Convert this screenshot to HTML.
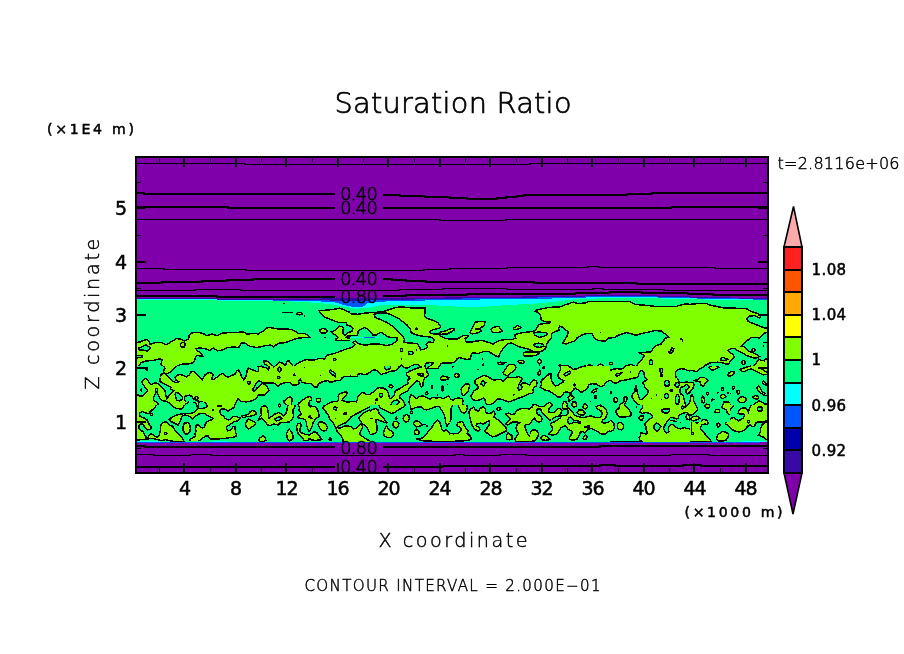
<!DOCTYPE html>
<html lang="en"><head><meta charset="utf-8"><title>Saturation Ratio</title>
<style>
html,body{margin:0;padding:0;background:#fff;}
body{width:904px;height:654px;overflow:hidden;}
svg{display:block;}
text{font-family:"DejaVu Sans","Liberation Sans",sans-serif;fill:#000;}
.thin{font-family:"DejaVu Sans Light","DejaVu Sans","Liberation Sans",sans-serif;font-weight:200;stroke:#000;stroke-width:0.45;}
.ttl{stroke-width:0.7;}
.cl{stroke-width:0.6;}
.b{stroke:#000;stroke-width:0.5;}
.c{fill:none;stroke:#000;stroke-width:1.45;stroke-linejoin:miter;}
.k{fill:none;stroke:#000;stroke-width:2;stroke-linejoin:miter;}
.r{stroke:#000;stroke-width:1.45;}
</style></head><body>
<svg width="904" height="654" viewBox="0 0 904 654">
<rect width="904" height="654" fill="#fff"/>
<g shape-rendering="crispEdges">
<clipPath id="cp"><rect x="136" y="157" width="632" height="316"/></clipPath>
<g clip-path="url(#cp)">
<rect x="136" y="157" width="632" height="316" fill="#7F00AA"/>
<rect x="136" y="296" width="632" height="146.5" fill="#00FF80"/>
<polygon points="135.5,342.5 137,342.5 142.2,341 146.5,339.4 149.6,341.9 150.2,344.3 155.7,342.5 161.2,342.2 166.1,344.9 171.6,341.5 176.5,338.6 180.8,339.1 184.4,341 188.7,338.8 189.3,334.9 192.4,332.7 199.7,332.5 203.4,333.7 207.1,335.8 212,333.9 216.9,335.8 221.7,333.3 227.9,332.7 234,332.7 240,332.1 240,344.9 238.9,347.4 234,347.1 227.9,347.4 222.4,349.8 217.5,351 213.2,348 209.5,350.4 205.2,348.6 199.7,348 196.1,348.6 196.7,350.4 200.9,352.9 202.8,355.9 199.7,355.9 196.7,355.3 194.8,359.6 193.6,362.7 188.7,363.9 182.6,363.9 177.1,366 162,366 160.6,364.5 162.4,359.6 159.4,359 154.5,360.2 145.9,361.1 141,362.7 138.8,366 135.5,366" fill="#80FF00"/>
<polygon points="137.6,348.6 142.2,346.8 146.5,344.7 150.2,348 147.1,351 142.2,349.8 139.2,349.8" fill="#00FF80"/>
<polygon points="136.1,355.7 142.2,355.7 142.2,357.2 136.1,358.1" fill="#00FF80"/>
<polyline points="135.5,366 135.5,342.5 137,342.5 142.2,341 146.5,339.4 149.6,341.9 150.2,344.3 155.7,342.5 161.2,342.2 166.1,344.9 171.6,341.5 176.5,338.6 180.8,339.1 184.4,341 188.7,338.8 189.3,334.9 192.4,332.7 199.7,332.5 203.4,333.7 207.1,335.8 212,333.9 216.9,335.8 221.7,333.3 227.9,332.7 234,332.7 240,332.1" class="c"/>
<polyline points="240,344.9 238.9,347.4 234,347.1 227.9,347.4 222.4,349.8 217.5,351 213.2,348 209.5,350.4 205.2,348.6 199.7,348 196.1,348.6 196.7,350.4 200.9,352.9 202.8,355.9 199.7,355.9 196.7,355.3 194.8,359.6 193.6,362.7 188.7,363.9 182.6,363.9 177.1,366" class="c"/>
<polyline points="162,366 160.6,364.5 162.4,359.6 159.4,359 154.5,360.2 145.9,361.1 141,362.7 138.8,366" class="c"/>
<polyline points="137.6,348.6 142.2,346.8 146.5,344.7 150.2,348 147.1,351 142.2,349.8 139.2,349.8 137.6,348.6" class="c"/>
<polyline points="136.1,355.7 142.2,355.7 142.2,357.2 136.1,358.1 136.1,355.7" class="c"/>
<ellipse cx="182.8" cy="344.9" rx="2.2" ry="2.4" fill="#80FF00" class="r"/>
<polygon points="240,332.1 243.7,332.1 247.3,334.2 252.2,333.3 258.3,333.9 262.6,331.5 266.3,328 270,327.6 276.7,328.8 282.8,329 291.4,329.3 295.7,331.5 298.7,333.7 303.6,333.3 307.9,335.1 309.5,337.1 303.6,337.6 298.7,338.2 293.8,339.4 288.9,341.3 285.3,342.7 279.1,343.1 276.1,344.9 273.6,347.1 270.6,344.9 264.5,345.9 260.2,347.1 255.9,347.4 249.8,346.2 244.9,343.1 241.2,343.1 240,344.3" fill="#80FF00"/>
<polygon points="319.3,310.7 325.6,310.2 333,309.5 339.7,308.2 344,309.8 350,312.5 350,326.2 346.8,325 346.2,322.7 338.2,322.3 333.6,320.6 328.3,318.6 323.7,316.7 320.2,312.6" fill="#80FF00"/>
<polygon points="350,331.8 348.1,332.9 344.8,335.3 343.2,333.9 342.9,331.2 343.5,327.9 341.5,326.6 339.6,326.2 336.9,328.9 333.2,331.2 331.6,331.8 333.6,334.2 336.3,335.5 338.2,337.2 335.5,339.2 336.3,340.5 341.5,340.2 348.1,340.6 350,340.4" fill="#80FF00"/>
<polygon points="350,335.9 347.5,336.2 346.2,337.6 350,338.6" fill="#00FF80"/>
<polygon points="347.9,336.9 350,336.7 350,338 348.4,337.8" fill="#00FFFF"/>
<polygon points="350,348 344,349.8 337.9,352.3 331.7,354.1 326.9,355.3 324.4,359 319.5,358.4 313.4,360.2 306.1,359.6 299.9,362.1 295,365.1 294.4,366 350,366" fill="#80FF00"/>
<polygon points="292.8,366 288.9,360.8 287.1,361.4 285.3,365.5 281.6,362.7 279.1,362.1 276.1,365.1 274.9,366" fill="#80FF00"/>
<polygon points="272.8,366 269.4,362.7 266.3,360.8 263.9,360.8 264.5,363.9 267.5,366" fill="#80FF00"/>
<polyline points="240,332.1 243.7,332.1 247.3,334.2 252.2,333.3 258.3,333.9 262.6,331.5 266.3,328 270,327.6 276.7,328.8 282.8,329 291.4,329.3 295.7,331.5 298.7,333.7 303.6,333.3 307.9,335.1 309.5,337.1 303.6,337.6 298.7,338.2 293.8,339.4 288.9,341.3 285.3,342.7 279.1,343.1 276.1,344.9 273.6,347.1 270.6,344.9 264.5,345.9 260.2,347.1 255.9,347.4 249.8,346.2 244.9,343.1 241.2,343.1 240,344.3" class="c"/>
<polyline points="350,326.2 346.8,325 346.2,322.7 338.2,322.3 333.6,320.6 328.3,318.6 323.7,316.7 320.2,312.6 319.3,310.7 325.6,310.2 333,309.5 339.7,308.2 344,309.8 350,312.5" class="c"/>
<polyline points="350,331.8 348.1,332.9 344.8,335.3 343.2,333.9 342.9,331.2 343.5,327.9 341.5,326.6 339.6,326.2 336.9,328.9 333.2,331.2 331.6,331.8 333.6,334.2 336.3,335.5 338.2,337.2 335.5,339.2 336.3,340.5 341.5,340.2 348.1,340.6 350,340.4" class="c"/>
<polyline points="350,335.9 347.5,336.2 346.2,337.6 350,338.6" class="c"/>
<polyline points="350,338 348.4,337.8 347.9,336.9 350,336.7" class="c"/>
<polyline points="350,348 344,349.8 337.9,352.3 331.7,354.1 326.9,355.3 324.4,359 319.5,358.4 313.4,360.2 306.1,359.6 299.9,362.1 295,365.1 294.4,366" class="c"/>
<polyline points="292.8,366 288.9,360.8 287.1,361.4 285.3,365.5 281.6,362.7 279.1,362.1 276.1,365.1 274.9,366" class="c"/>
<polyline points="272.8,366 269.4,362.7 266.3,360.8 263.9,360.8 264.5,363.9 267.5,366" class="c"/>
<polyline points="282.2,312.3 292.6,312.3" class="c"/>
<polyline points="283.4,303.6 284.6,303.6" class="c"/>
<polyline points="304,316.2 305,316.2" class="c"/>
<polyline points="324.4,337.6 325.6,337.6" class="c"/>
<ellipse cx="299.6" cy="313.7" rx="2.7" ry="1.1" fill="#80FF00" class="r"/>
<ellipse cx="323.4" cy="330.9" rx="3.7" ry="2.2" fill="#80FF00" class="r"/>
<ellipse cx="334.8" cy="359.4" rx="1.3" ry="1.2" fill="#00FF80" class="r"/>
<rect x="350" y="296" width="110" height="70" fill="#80FF00"/>
<polygon points="350,296 460,296 460,337.3 457.8,338.9 450.4,339.2 445.2,338.2 441.1,336.5 438.6,334.2 431,333.6 429.3,332.2 430.6,330.6 435.3,329.1 439.2,328.2 440.6,326.6 437.8,322.5 432.6,320.3 426.6,318.3 424.6,316.2 425.2,308.2 414.8,308.2 407.5,307.6 401.4,306.8 395.3,307.6 387.9,310.1 382.4,311.9 373.2,312.5 364.7,313.1 357.3,314.3 350,313.7" fill="#00FF80"/>
<polygon points="438.6,333.9 440.6,332.2 446.5,330.6 451.8,328.2 453.7,328.5 454.5,329.6 452.5,331.2 447.2,333.9 441.3,334.3" fill="#80FF00"/>
<polygon points="350,326 353.1,328.4 351.8,331.5 350,332.1" fill="#00FF80"/>
<polygon points="350,336 352.2,335.5 357.5,335.3 358.1,333.2 357.5,331.6 360.2,329.5 364.8,327.6 368.1,329.3 371.4,332.9 372.8,334.9 376.3,334.9 380,332.5 382.4,332.7 386.1,335.8 390.4,337.6 397.1,337.8 397.1,340.6 392.2,344.3 386.7,345.5 380.6,344.3 375,343.8 371.4,343.8 368.1,344.8 362.7,344.8 357.5,343.2 355.5,341.1 352.8,342.5 354.8,344.6 353.4,346.5 350,348" fill="#00FF80"/>
<polygon points="373.9,314.3 379.4,313.1 386.7,313.1 391.6,315 397.7,318 403.8,322.3 407.5,325.4 410.6,329.6 411.2,332.7 416.1,334.9 423.4,336.4 430.7,337 434.4,339.4 433.2,342.5 428.3,341.9 425.8,344.3 427.7,346.8 424.6,349.2 420.9,349.8 419.1,346.2 417.3,343.7 411.2,343.1 403.8,342.5 404.4,338.8 402,335.1 398.3,331.5 394.6,327.8 390.4,324.7 385.5,321.7 379.4,319.2 375.1,317.4" fill="#00FF80"/>
<polygon points="460,357.2 457,359 454.6,362.1 451.5,363 443.1,363 441.1,363.6 439.4,366 460,366" fill="#00FF80"/>
<polygon points="411.2,366 413.9,364.6 417.9,364.6 419.8,366" fill="#00FF80"/>
<polygon points="399.9,366 401.3,365.2 402.8,366" fill="#00FF80"/>
<polygon points="424.7,366 426.2,363 429.8,362.7 433.1,363 431.8,364.6 430,366" fill="#00FF80"/>
<polyline points="460,337.3 457.8,338.9 450.4,339.2 445.2,338.2 441.1,336.5 438.6,334.2 431,333.6 429.3,332.2 430.6,330.6 435.3,329.1 439.2,328.2 440.6,326.6 437.8,322.5 432.6,320.3 426.6,318.3 424.6,316.2 425.2,308.2 414.8,308.2 407.5,307.6 401.4,306.8 395.3,307.6 387.9,310.1 382.4,311.9 373.2,312.5 364.7,313.1 357.3,314.3 350,313.7" class="c"/>
<polyline points="438.6,333.9 440.6,332.2 446.5,330.6 451.8,328.2 453.7,328.5 454.5,329.6 452.5,331.2 447.2,333.9 441.3,334.3 438.6,333.9" class="c"/>
<polyline points="350,326 353.1,328.4 351.8,331.5 350,332.1" class="c"/>
<polyline points="350,336 352.2,335.5 357.5,335.3 358.1,333.2 357.5,331.6 360.2,329.5 364.8,327.6 368.1,329.3 371.4,332.9 372.8,334.9 376.3,334.9 380,332.5 382.4,332.7 386.1,335.8 390.4,337.6 397.1,337.8 397.1,340.6 392.2,344.3 386.7,345.5 380.6,344.3 375,343.8 371.4,343.8 368.1,344.8 362.7,344.8 357.5,343.2 355.5,341.1 352.8,342.5 354.8,344.6 353.4,346.5 350,348" class="c"/>
<polyline points="373.9,314.3 379.4,313.1 386.7,313.1 391.6,315 397.7,318 403.8,322.3 407.5,325.4 410.6,329.6 411.2,332.7 416.1,334.9 423.4,336.4 430.7,337 434.4,339.4 433.2,342.5 428.3,341.9 425.8,344.3 427.7,346.8 424.6,349.2 420.9,349.8 419.1,346.2 417.3,343.7 411.2,343.1 403.8,342.5 404.4,338.8 402,335.1 398.3,331.5 394.6,327.8 390.4,324.7 385.5,321.7 379.4,319.2 375.1,317.4 373.9,314.3" class="c"/>
<polyline points="460,357.2 457,359 454.6,362.1 451.5,363 443.1,363 441.1,363.6 439.4,366" class="c"/>
<polyline points="411.2,366 413.9,364.6 417.9,364.6 419.8,366" class="c"/>
<polyline points="399.9,366 401.3,365.2 402.8,366" class="c"/>
<polyline points="424.7,366 426.2,363 429.8,362.7 433.1,363 431.8,364.6 430,366" class="c"/>
<polyline points="414.8,329.3 416.1,328 417.3,329.3 414.8,329.3" class="c"/>
<polyline points="400.6,359 401.6,359" class="c"/>
<polyline points="416.2,349.8 417.2,349.8" class="c"/>
<polyline points="446.8,345.9 447.7,345.9" class="c"/>
<ellipse cx="401.4" cy="349.8" rx="1.1" ry="1.6" fill="#00FF80" class="r"/>
<ellipse cx="410.8" cy="352.9" rx="2.3" ry="1.6" fill="#00FF80" class="r"/>
<polygon points="350,336.9 378.7,337.1 378.7,338.1 350,338.2" fill="#00FFFF"/>
<polygon points="363.5,337.3 374.5,337.3 374.5,338 363.5,338" fill="#0055FF"/>
<polygon points="460,337 463.7,335.4 468.6,335.4 467.3,337.6 464.9,338.2 466.1,341.9 471,342.2 475.9,341 482,340.6 488.1,342.2 493,344 496.7,341.9 500.4,340.3 506.5,339.4 512.6,339.4 515.7,338.2 514.4,335.4 517.5,333.7 523.6,332.5 530.9,331.7 534.6,330.9 537.1,327.8 538.9,324.4 544.4,323.5 550.5,322.7 549.9,321.7 544.4,321.7 541.3,319.9 540.1,314.3 538.3,312.5 535.2,311.3 535.8,310.4 542,308.8 548.1,307.6 554.2,307 560.3,306.8 565.2,304.8 570,303.3 570,342.5 566.4,344 562.8,343.1 565.2,338.8 567.6,335.1 568.3,331.5 565.2,329.6 562.8,327.2 559.7,326.3 558.5,328 559.1,330.3 555.4,331.5 551.7,333.3 551.7,337.6 549.3,340 546.9,343.7 545.6,348.6 542,351 538.3,351.7 533.4,351.3 530.9,350.4 528.5,349.2 523.6,348 518.7,346.8 515,344.9 511.4,343.1 508.3,343.5 505.3,346.2 502.2,349.8 499.8,353.5 498.9,356.9 495.5,355.9 491.8,353.5 488.7,351.7 483.2,351.7 478.3,353.5 472.2,352.9 471,355.9 470.4,359 466.1,359.4 460,357.8" fill="#80FF00"/>
<polygon points="522.6,353.5 526.1,352 533.4,352.3 539.5,353.2 535.8,355.3 529.7,356.2 524.8,355.9" fill="#80FF00"/>
<polygon points="533.4,332.7 538.3,332.1 545.6,332.5 547.5,333.9 544.4,336.4 539.5,337.3 535.2,335.4" fill="#00FF80"/>
<polygon points="533.4,344.3 538.3,343.1 543.2,344.3 543.8,346.2 539.5,347.4 534.6,346.4" fill="#00FF80"/>
<polygon points="469.8,332.7 472.8,327.2 475.3,322.3 479.6,321.3 485.1,321.4 484.5,324.7 481.4,327.6 478.3,328.8 481.4,330.9 478.3,332.7 472.2,333.9" fill="#80FF00"/>
<polygon points="490.6,329.3 494.3,327.2 498.5,326.3 502.2,330.9 499.1,332.5 493,332.5" fill="#80FF00"/>
<polygon points="513.2,328.4 517.5,325.4 521.2,327.2 518.7,329 514.4,329.6" fill="#80FF00"/>
<polygon points="497.3,363 500.4,362.1 505.3,362.7 504,363.9 499.1,364.5" fill="#80FF00"/>
<polygon points="517.5,361.4 521.2,360.2 524.2,361.4 523.6,363.5 519.9,363" fill="#80FF00"/>
<polygon points="537.1,361.4 539.5,359 541.7,361.8 539.5,364.5" fill="#80FF00"/>
<polygon points="507.2,366 508.9,364.5 513.8,364.7 516,366" fill="#80FF00"/>
<polygon points="558.6,366 559.1,365.1 564,365.5 568.1,366" fill="#80FF00"/>
<polyline points="460,337 463.7,335.4 468.6,335.4 467.3,337.6 464.9,338.2 466.1,341.9 471,342.2 475.9,341 482,340.6 488.1,342.2 493,344 496.7,341.9 500.4,340.3 506.5,339.4 512.6,339.4 515.7,338.2 514.4,335.4 517.5,333.7 523.6,332.5 530.9,331.7 534.6,330.9 537.1,327.8 538.9,324.4 544.4,323.5 550.5,322.7 549.9,321.7 544.4,321.7 541.3,319.9 540.1,314.3 538.3,312.5 535.2,311.3 535.8,310.4 542,308.8 548.1,307.6 554.2,307 560.3,306.8 565.2,304.8 570,303.3" class="c"/>
<polyline points="570,342.5 566.4,344 562.8,343.1 565.2,338.8 567.6,335.1 568.3,331.5 565.2,329.6 562.8,327.2 559.7,326.3 558.5,328 559.1,330.3 555.4,331.5 551.7,333.3 551.7,337.6 549.3,340 546.9,343.7 545.6,348.6 542,351 538.3,351.7 533.4,351.3 530.9,350.4 528.5,349.2 523.6,348 518.7,346.8 515,344.9 511.4,343.1 508.3,343.5 505.3,346.2 502.2,349.8 499.8,353.5 498.9,356.9 495.5,355.9 491.8,353.5 488.7,351.7 483.2,351.7 478.3,353.5 472.2,352.9 471,355.9 470.4,359 466.1,359.4 460,357.8" class="c"/>
<polyline points="522.6,353.5 526.1,352 533.4,352.3 539.5,353.2 535.8,355.3 529.7,356.2 524.8,355.9 522.6,353.5" class="c"/>
<polyline points="533.4,332.7 538.3,332.1 545.6,332.5 547.5,333.9 544.4,336.4 539.5,337.3 535.2,335.4 533.4,332.7" class="c"/>
<polyline points="533.4,344.3 538.3,343.1 543.2,344.3 543.8,346.2 539.5,347.4 534.6,346.4 533.4,344.3" class="c"/>
<polyline points="469.8,332.7 472.8,327.2 475.3,322.3 479.6,321.3 485.1,321.4 484.5,324.7 481.4,327.6 478.3,328.8 481.4,330.9 478.3,332.7 472.2,333.9 469.8,332.7" class="c"/>
<polyline points="490.6,329.3 494.3,327.2 498.5,326.3 502.2,330.9 499.1,332.5 493,332.5 490.6,329.3" class="c"/>
<polyline points="513.2,328.4 517.5,325.4 521.2,327.2 518.7,329 514.4,329.6 513.2,328.4" class="c"/>
<polyline points="497.3,363 500.4,362.1 505.3,362.7 504,363.9 499.1,364.5 497.3,363" class="c"/>
<polyline points="517.5,361.4 521.2,360.2 524.2,361.4 523.6,363.5 519.9,363 517.5,361.4" class="c"/>
<polyline points="537.1,361.4 539.5,359 541.7,361.8 539.5,364.5 537.1,361.4" class="c"/>
<polyline points="507.2,366 508.9,364.5 513.8,364.7 516,366" class="c"/>
<polyline points="558.6,366 559.1,365.1 564,365.5 568.1,366" class="c"/>
<polyline points="482.1,359 483.1,359" class="c"/>
<polyline points="481.8,365.5 483.2,364.5 483.2,366" class="c"/>
<polyline points="474.7,328.8 478.3,328.8" class="c"/>
<rect x="570" y="296" width="110" height="70" fill="#80FF00"/>
<polygon points="570,296 680,296 680,305.2 676.4,306.4 667.9,306.4 655.6,306.4 645.8,305.3 636.1,304.6 633,303.3 629,301.4 618.9,301.4 606.7,301.4 594.5,301.4 589,301.4 585.5,303 578,303.5 573.4,302.2 570,303" fill="#00FF80"/>
<polygon points="570,342.5 574.9,341 577.3,337.6 582.2,334.9 587.1,333.3 592,333.7 593.9,337.6 598.1,340.6 605.5,341 607.9,338.2 614,337.6 618.9,335.1 626.3,332.5 631.2,333.7 636.1,335.4 640.9,333.7 648.3,332.1 655.6,330.5 661.7,331.2 665.4,334.2 669.1,337.3 665.4,338.2 663,341.3 661.1,344 655.6,345.9 653.2,348 651.3,351.7 645.8,352.3 639.1,352.5 644.6,355.9 641.6,359.6 638.5,363.3 636.4,366 635.1,366 631.2,364.5 626.3,365.7 625.7,366 603.9,366 600.6,363.9 597.3,366 592.4,366 589.6,364.7 586.9,366 570,366" fill="#00FF80"/>
<polygon points="668.5,352.3 670.9,350.4 671.5,347.4 674,348.6 672.8,351.7 670.9,353.5" fill="#00FF80"/>
<polyline points="680,305.2 676.4,306.4 667.9,306.4 655.6,306.4 645.8,305.3 636.1,304.6 633,303.3 629,301.4 618.9,301.4 606.7,301.4 594.5,301.4 589,301.4 585.5,303 578,303.5 573.4,302.2 570,303" class="c"/>
<polyline points="570,342.5 574.9,341 577.3,337.6 582.2,334.9 587.1,333.3 592,333.7 593.9,337.6 598.1,340.6 605.5,341 607.9,338.2 614,337.6 618.9,335.1 626.3,332.5 631.2,333.7 636.1,335.4 640.9,333.7 648.3,332.1 655.6,330.5 661.7,331.2 665.4,334.2 669.1,337.3 665.4,338.2 663,341.3 661.1,344 655.6,345.9 653.2,348 651.3,351.7 645.8,352.3 639.1,352.5 644.6,355.9 641.6,359.6 638.5,363.3 636.4,366" class="c"/>
<polyline points="635.1,366 631.2,364.5 626.3,365.7 625.7,366" class="c"/>
<polyline points="603.9,366 600.6,363.9 597.3,366" class="c"/>
<polyline points="592.4,366 589.6,364.7 586.9,366" class="c"/>
<polyline points="668.5,352.3 670.9,350.4 671.5,347.4 674,348.6 672.8,351.7 670.9,353.5 668.5,352.3" class="c"/>
<polyline points="600,332.5 601.2,332.5" class="c"/>
<ellipse cx="611" cy="363.3" rx="1.6" ry="1.1" fill="#80FF00" class="r"/>
<ellipse cx="651" cy="362.3" rx="1.7" ry="2.3" fill="#00FF80" class="r"/>
<polygon points="680,305.2 684.9,304 689.8,304.3 698.3,303.6 705.7,303.3 710.6,305.2 716.7,306.4 725.3,308.2 735,308.2 746.1,308.5 750.9,311.3 758.3,313.7 760.7,315 768,314.3 768,315.3 761.3,315.6 759.5,317.8 754.6,315.6 749.7,316.2 746.7,319.2 748.5,321.7 753.4,323.5 759.5,326 764.4,328 768,328 768,332.3 764.8,332.9 761.5,336 758.8,338.3 757.4,337.3 751.4,337.3 748.1,339.9 744.2,343.6 741.5,346.3 743.5,346.3 746.2,349 748.9,351.3 752.2,352.5 756.1,354.2 759.5,356.6 757.4,357.5 754.9,358.3 750.8,356.9 746.9,355.6 742.9,353.2 738.8,351.3 734.9,348.6 731.6,348.5 728.9,349.9 728,350.9 730.3,352.5 733,354.8 734.6,356.9 732.2,359.2 730.3,361.2 728.9,363.9 725.6,364.1 721.6,362.5 717.7,362.2 715,362.5 710.6,362.7 705.7,365.1 704.5,366 680,366" fill="#80FF00"/>
<polygon points="720.2,359.2 722.9,357.2 724.9,358.3 727.6,359.2 724.9,360.6 721.6,360.6" fill="#00FF80"/>
<polygon points="768,358.5 764.8,359.2 764.2,360.8 761.5,360.6 758.8,359.2 757.4,361.2 755.5,364.5 753.1,366 768,366" fill="#80FF00"/>
<polyline points="680,305.2 684.9,304 689.8,304.3 698.3,303.6 705.7,303.3 710.6,305.2 716.7,306.4 725.3,308.2 735,308.2 746.1,308.5 750.9,311.3 758.3,313.7 760.7,315 768,314.3" class="c"/>
<polyline points="768,315.3 761.3,315.6 759.5,317.8 754.6,315.6 749.7,316.2 746.7,319.2 748.5,321.7 753.4,323.5 759.5,326 764.4,328 768,328" class="c"/>
<polyline points="768,332.3 764.8,332.9 761.5,336 758.8,338.3 757.4,337.3 751.4,337.3 748.1,339.9 744.2,343.6 741.5,346.3 743.5,346.3 746.2,349 748.9,351.3 752.2,352.5 756.1,354.2 759.5,356.6 757.4,357.5 754.9,358.3 750.8,356.9 746.9,355.6 742.9,353.2 738.8,351.3 734.9,348.6 731.6,348.5 728.9,349.9 728,350.9 730.3,352.5 733,354.8 734.6,356.9 732.2,359.2 730.3,361.2 728.9,363.9 725.6,364.1 721.6,362.5 717.7,362.2 715,362.5 710.6,362.7 705.7,365.1 704.5,366" class="c"/>
<polyline points="720.2,359.2 722.9,357.2 724.9,358.3 727.6,359.2 724.9,360.6 721.6,360.6 720.2,359.2" class="c"/>
<polyline points="768,358.5 764.8,359.2 764.2,360.8 761.5,360.6 758.8,359.2 757.4,361.2 755.5,364.5 753.1,366" class="c"/>
<polyline points="763.2,345.5 764.4,346.4" class="c"/>
<polyline points="680,338.8 682.4,339.4 682.4,341.9" class="c"/>
<ellipse cx="753.5" cy="349.9" rx="1.6" ry="1.6" fill="#80FF00" class="r"/>
<ellipse cx="743.5" cy="362.5" rx="1.7" ry="1.8" fill="#80FF00" class="r"/>
<rect x="130" y="366" width="80" height="39" fill="#80FF00"/>
<polygon points="135.3,366 163.5,366 165,368.2 163.6,370.9 164.1,373.1 161,374.4 160.5,377.5 159.6,380.6 161.4,382.4 164.5,384.1 168.1,385.9 170.9,387.2 170.7,389.2 173.8,390.8 171.2,393.4 168.9,396.1 166.7,398.3 165.8,395.6 165.4,392.1 164.5,389.5 161.9,387.2 159.6,385 157.4,383.3 154.8,383 151.7,384.4 149.9,383.7 148.1,380.6 145.9,378.4 143.7,379.7 141.9,381.9 143.3,385 145.9,388.1 147.7,390.3 145.5,393 142.8,395.6 141.1,396.5 138.8,395.6 137.1,394.3 135.3,394.8" fill="#00FF80"/>
<polygon points="156.5,391.7 158.3,395.2 160.1,398.3 162.3,400.5 166.3,401.4 169.8,403.2 171.2,405 157.4,405 158.3,404.1 156.5,402.3 153.9,400.1 153.2,397.9 154.8,395.2" fill="#00FF80"/>
<polygon points="176,392.5 178.2,393 180.9,395.2 182.7,397 182.2,399.2 179.6,401 176.9,400.1 175.8,397.4 175.1,394.8" fill="#00FF80"/>
<polygon points="184.4,397 186.6,395.6 189.3,395.2 191.9,396.5 193.3,399.2 195.5,400.1 199,401.4 202.6,401.8 205.2,403.6 206.1,405 186.6,405 187.5,404.1 185.8,401.8 184.4,399.6" fill="#00FF80"/>
<polygon points="176.5,366 174.2,368.7 171.6,371.3 168.1,373.5 165.4,374 168.9,377.5 171.6,380.2 175.1,382.4 178.2,382.4 178.7,381.5 176,380.2 175.1,377.9 176.5,375.7 179.6,374.4 183.1,375.3 186.6,377.1 189.3,374.8 191.1,371.8 193.3,371.3 197.3,374.4 200.4,377.5 202.6,379.7 204.3,375.7 207,373.1 210,372.6 210,366" fill="#00FF80"/>
<polyline points="163.5,366 165,368.2 163.6,370.9 164.1,373.1 161,374.4 160.5,377.5 159.6,380.6 161.4,382.4 164.5,384.1 168.1,385.9 170.9,387.2 170.7,389.2 173.8,390.8 171.2,393.4 168.9,396.1 166.7,398.3 165.8,395.6 165.4,392.1 164.5,389.5 161.9,387.2 159.6,385 157.4,383.3 154.8,383 151.7,384.4 149.9,383.7 148.1,380.6 145.9,378.4 143.7,379.7 141.9,381.9 143.3,385 145.9,388.1 147.7,390.3 145.5,393 142.8,395.6 141.1,396.5 138.8,395.6 137.1,394.3 135.3,394.8 135.3,366" class="c"/>
<polyline points="157.4,405 158.3,404.1 156.5,402.3 153.9,400.1 153.2,397.9 154.8,395.2 156.5,391.7 158.3,395.2 160.1,398.3 162.3,400.5 166.3,401.4 169.8,403.2 171.2,405" class="c"/>
<polyline points="176,392.5 178.2,393 180.9,395.2 182.7,397 182.2,399.2 179.6,401 176.9,400.1 175.8,397.4 175.1,394.8 176,392.5" class="c"/>
<polyline points="186.6,405 187.5,404.1 185.8,401.8 184.4,399.6 184.4,397 186.6,395.6 189.3,395.2 191.9,396.5 193.3,399.2 195.5,400.1 199,401.4 202.6,401.8 205.2,403.6 206.1,405" class="c"/>
<polyline points="176.5,366 174.2,368.7 171.6,371.3 168.1,373.5 165.4,374 168.9,377.5 171.6,380.2 175.1,382.4 178.2,382.4 178.7,381.5 176,380.2 175.1,377.9 176.5,375.7 179.6,374.4 183.1,375.3 186.6,377.1 189.3,374.8 191.1,371.8 193.3,371.3 197.3,374.4 200.4,377.5 202.6,379.7 204.3,375.7 207,373.1 210,372.6" class="c"/>
<polyline points="140.4,390.3 141.5,389.2 141.5,391.2 140.4,390.3" class="c"/>
<polyline points="182.2,396.5 183.1,397.4" class="c"/>
<ellipse cx="146.8" cy="369.1" rx="1.1" ry="1.1" fill="#80FF00" class="r"/>
<ellipse cx="156.5" cy="389.9" rx="1.2" ry="1.4" fill="#00FF80" class="r"/>
<ellipse cx="196.5" cy="398.3" rx="1.6" ry="1.6" fill="#80FF00" class="r"/>
<rect x="210" y="366" width="80" height="39" fill="#80FF00"/>
<polygon points="210,366 260.4,366 258.2,366.9 258.7,369.5 257.8,371.8 255.1,370.9 251.6,369.5 248.5,368.2 247.2,370.4 246.7,374 245.4,377.5 243.6,379.7 241.9,377.5 240.1,372.6 238.3,370 236.5,371.3 234.8,374.4 231.2,375.7 227.7,377.1 225,375.7 222.8,373.5 220.6,374.4 217.1,377.1 214,379.3 212.2,379.7 211.8,377.5 213.5,375.3 212.7,373.5 210,372.6" fill="#00FF80"/>
<polygon points="261.2,366 263.1,367.1 266.6,367.6 268.2,370 269.1,368.2 269.1,366" fill="#00FF80"/>
<polygon points="252.5,389.9 254.2,386.8 256.5,382.8 258.7,380.6 261.8,381.9 262.2,383.7 259.6,385.9 256.9,388.1 254.2,391.2" fill="#00FF80"/>
<polygon points="262.2,383.3 265.8,382.8 270.2,382.8 274.6,383.3 278.1,386.4 280.8,384.1 284.3,382.8 290,382.4 290,396.5 287,398.7 283.5,401.4 285.2,403.6 286.3,405 280.8,405 279.5,403.6 278.1,405 236.1,405 236.5,401 237.9,398.7 239.2,400.1 242.7,402.3 247.2,401.8 251.6,401 255.1,399.2 257.3,397 258.7,394.8 262.2,395.2 264.9,394.8 266.6,392.5 268.8,390.3 267.5,387.7 265.8,385" fill="#00FF80"/>
<polyline points="260.4,366 258.2,366.9 258.7,369.5 257.8,371.8 255.1,370.9 251.6,369.5 248.5,368.2 247.2,370.4 246.7,374 245.4,377.5 243.6,379.7 241.9,377.5 240.1,372.6 238.3,370 236.5,371.3 234.8,374.4 231.2,375.7 227.7,377.1 225,375.7 222.8,373.5 220.6,374.4 217.1,377.1 214,379.3 212.2,379.7 211.8,377.5 213.5,375.3 212.7,373.5 210,372.6" class="c"/>
<polyline points="261.2,366 263.1,367.1 266.6,367.6 268.2,370 269.1,368.2 269.1,366" class="c"/>
<polyline points="252.5,389.9 254.2,386.8 256.5,382.8 258.7,380.6 261.8,381.9 262.2,383.7 259.6,385.9 256.9,388.1 254.2,391.2 252.5,389.9" class="c"/>
<polyline points="236.1,405 236.5,401 237.9,398.7 239.2,400.1 242.7,402.3 247.2,401.8 251.6,401 255.1,399.2 257.3,397 258.7,394.8 262.2,395.2 264.9,394.8 266.6,392.5 268.8,390.3 267.5,387.7 265.8,385 262.2,383.3 265.8,382.8 270.2,382.8 274.6,383.3 278.1,386.4 280.8,384.1 284.3,382.8 290,382.4" class="c"/>
<polyline points="290,396.5 287,398.7 283.5,401.4 285.2,403.6 286.3,405" class="c"/>
<polyline points="280.8,405 279.5,403.6 278.1,405" class="c"/>
<polyline points="273.3,366 273.7,367.1 274.9,366" class="c"/>
<ellipse cx="279.5" cy="369.5" rx="1.6" ry="2.3" fill="#00FF80" class="r"/>
<ellipse cx="278.8" cy="377.5" rx="1.1" ry="1.2" fill="#00FF80" class="r"/>
<ellipse cx="248.9" cy="382.8" rx="1.4" ry="1.4" fill="#00FF80" class="r"/>
<rect x="290" y="366" width="80" height="39" fill="#80FF00"/>
<polygon points="290,382.4 292.7,385 296.2,385 299.3,383.7 298.4,381 300.2,379.3 301.9,382.4 305.9,383.3 310.4,383.3 313,385.5 314.8,387.2 317.4,386.8 318.3,384.1 321,382.4 324.5,381 328.1,380.6 329.4,382.4 332.5,381.9 336,380.6 339.6,380.6 341.3,379.7 342.2,377.5 344.9,376.6 350.2,376.2 355.5,376.4 357.3,376.2 358.1,374.4 360.8,373.5 364.3,374.8 367,374 370,372.2 370,394.3 367,394.8 364.3,393 361.7,392.5 359.9,394.3 357.7,396.5 357.3,399.6 356.4,401.8 353.7,401.4 351.1,401.4 348.4,402.3 344.9,401.4 342.2,400.1 344,397.4 347.5,393.4 345.8,391.7 342.2,393 339.1,394.3 338.2,396.5 338.7,399.6 336.9,401.4 332.5,401.8 328.9,403.2 326.3,405 291.3,405 291.8,401.4 291.8,397.9 290,396.5" fill="#00FF80"/>
<polygon points="298,405 298.8,403.2 301.5,401 305,398.3 309,396.5 311.7,397.4 311.7,399.6 309.5,401.4 308.6,404.1 309,405" fill="#80FF00"/>
<polygon points="328.9,371.3 330.3,370.2 333.4,372.2 335.6,374.4 335.6,377.1 333.4,375.3 330.7,373.5" fill="#00FF80"/>
<polyline points="290,382.4 292.7,385 296.2,385 299.3,383.7 298.4,381 300.2,379.3 301.9,382.4 305.9,383.3 310.4,383.3 313,385.5 314.8,387.2 317.4,386.8 318.3,384.1 321,382.4 324.5,381 328.1,380.6 329.4,382.4 332.5,381.9 336,380.6 339.6,380.6 341.3,379.7 342.2,377.5 344.9,376.6 350.2,376.2 355.5,376.4 357.3,376.2 358.1,374.4 360.8,373.5 364.3,374.8 367,374 370,372.2" class="c"/>
<polyline points="370,394.3 367,394.8 364.3,393 361.7,392.5 359.9,394.3 357.7,396.5 357.3,399.6 356.4,401.8 353.7,401.4 351.1,401.4 348.4,402.3 344.9,401.4 342.2,400.1 344,397.4 347.5,393.4 345.8,391.7 342.2,393 339.1,394.3 338.2,396.5 338.7,399.6 336.9,401.4 332.5,401.8 328.9,403.2 326.3,405" class="c"/>
<polyline points="291.3,405 291.8,401.4 291.8,397.9 290,396.5" class="c"/>
<polyline points="298,405 298.8,403.2 301.5,401 305,398.3 309,396.5 311.7,397.4 311.7,399.6 309.5,401.4 308.6,404.1 309,405" class="c"/>
<polyline points="328.9,371.3 330.3,370.2 333.4,372.2 335.6,374.4 335.6,377.1 333.4,375.3 330.7,373.5 328.9,371.3" class="c"/>
<polyline points="293.5,375.7 294.4,374 295.3,375.7 293.5,375.7" class="c"/>
<polyline points="319.6,375.7 320.5,375.7" class="c"/>
<polyline points="304.2,367.3 305,367.3" class="c"/>
<polyline points="293.5,366.4 294.4,366.4" class="c"/>
<ellipse cx="318.5" cy="400.3" rx="2.1" ry="1.9" fill="#80FF00" class="r"/>
<rect x="370" y="366" width="80" height="39" fill="#80FF00"/>
<polygon points="370,372.2 372.7,370.4 375.3,369.5 378,371.8 381.5,374.4 384.2,373.5 388.6,372.2 390,371.3 394,371 396.6,370 398.6,367.3 400.5,366 401.9,366 403.3,367 405.9,368.3 408.6,367.6 411.2,366 419.9,366 421.2,367 418.6,367.9 415.2,368.9 412.6,370 409.3,371.3 406.6,372.9 406.3,374.2 407.6,375.9 409.3,377.2 409.9,378.6 408,379.5 407.6,381.9 408.6,383.5 405.9,384.6 403.3,386.2 400.6,388.2 398,389.5 395.3,390.9 394.6,393.2 394,395.8 391.3,398.1 390,398.5 389,396.1 388.1,392.5 386.8,389.9 383.3,388.1 379.7,387.7 377.1,388.1 374.9,390.3 372.7,392.5 370,394.3" fill="#00FF80"/>
<polygon points="384.6,366 384.6,368.2 386.8,370 389.9,368.7 390.8,366" fill="#00FF80"/>
<polygon points="390,384.8 392,385.2 392.7,386.5 391.3,387.9 390,387.5 388.8,386.4" fill="#80FF00"/>
<polygon points="439.6,366 439.5,366.3 437.8,368.3 433.8,368.5 429.8,368.7 426.5,368.7 426.2,370 427.2,372.3 428.5,374.2 427.9,375.9 425.2,377.6 423.9,379.5 423.2,382.5 422.8,385.6 421.5,387.2 420.2,385.2 419.9,383.3 419.2,381.6 417.3,380.9 415.2,381.9 413.3,383.9 411.2,386.2 409.3,388.6 407.3,390.9 404,392.8 400.6,394.5 399.3,396.2 400,398.1 401.3,399.2 403.2,401 404.3,402.7 405,405 409.8,405 408.9,401.4 409.6,400 409.9,397.2 411.2,394.5 413.9,396.5 416.5,398.5 419.2,396.8 421.9,395.8 424.5,396.5 427.2,397.9 429.8,399.2 433.2,397.2 436.5,398.1 439.1,397.2 443.1,398.5 446.5,397.2 448.4,395.8 450,397.2 450,366" fill="#00FF80"/>
<polygon points="424.7,366 428.8,366 429.2,366.6 426.5,368.7 424.5,366.3" fill="#00FF80"/>
<polygon points="416.5,373.6 419.2,374 423.2,373.6 423.2,375.9 420.5,375.9 418.6,374.9" fill="#00FF80"/>
<polygon points="440.1,379.3 441.4,377.2 443.1,375.9 446.5,376.9 448.8,377.6 447.8,379.3 445.1,380.2 441.8,380.2" fill="#80FF00"/>
<polygon points="390.8,405 391.7,402.3 394.3,400.5 397.4,400.1 399.2,401.4 398.3,403.6 396.5,405" fill="#00FF80"/>
<polyline points="370,372.2 372.7,370.4 375.3,369.5 378,371.8 381.5,374.4 384.2,373.5 388.6,372.2 390,371.3 394,371 396.6,370 398.6,367.3 400.5,366" class="c"/>
<polyline points="401.9,366 403.3,367 405.9,368.3 408.6,367.6 411.2,366" class="c"/>
<polyline points="419.9,366 421.2,367 418.6,367.9 415.2,368.9 412.6,370 409.3,371.3 406.6,372.9 406.3,374.2 407.6,375.9 409.3,377.2 409.9,378.6 408,379.5 407.6,381.9 408.6,383.5 405.9,384.6 403.3,386.2 400.6,388.2 398,389.5 395.3,390.9 394.6,393.2 394,395.8 391.3,398.1 390,398.5 389,396.1 388.1,392.5 386.8,389.9 383.3,388.1 379.7,387.7 377.1,388.1 374.9,390.3 372.7,392.5 370,394.3" class="c"/>
<polyline points="384.6,366 384.6,368.2 386.8,370 389.9,368.7 390.8,366" class="c"/>
<polyline points="390,384.8 392,385.2 392.7,386.5 391.3,387.9 390,387.5 388.8,386.4 390,384.8" class="c"/>
<polyline points="439.6,366 439.5,366.3 437.8,368.3 433.8,368.5 429.8,368.7 426.5,368.7 426.2,370 427.2,372.3 428.5,374.2 427.9,375.9 425.2,377.6 423.9,379.5 423.2,382.5 422.8,385.6 421.5,387.2 420.2,385.2 419.9,383.3 419.2,381.6 417.3,380.9 415.2,381.9 413.3,383.9 411.2,386.2 409.3,388.6 407.3,390.9 404,392.8 400.6,394.5 399.3,396.2 400,398.1 401.3,399.2 403.2,401 404.3,402.7 405,405" class="c"/>
<polyline points="409.8,405 408.9,401.4 409.6,400 409.9,397.2 411.2,394.5 413.9,396.5 416.5,398.5 419.2,396.8 421.9,395.8 424.5,396.5 427.2,397.9 429.8,399.2 433.2,397.2 436.5,398.1 439.1,397.2 443.1,398.5 446.5,397.2 448.4,395.8 450,397.2" class="c"/>
<polyline points="428.8,366 429.2,366.6 426.5,368.7 424.5,366.3 424.7,366" class="c"/>
<polyline points="416.5,373.6 419.2,374 423.2,373.6 423.2,375.9 420.5,375.9 418.6,374.9 416.5,373.6" class="c"/>
<polyline points="440.1,379.3 441.4,377.2 443.1,375.9 446.5,376.9 448.8,377.6 447.8,379.3 445.1,380.2 441.8,380.2 440.1,379.3" class="c"/>
<polyline points="390.8,405 391.7,402.3 394.3,400.5 397.4,400.1 399.2,401.4 398.3,403.6 396.5,405" class="c"/>
<polyline points="431.9,385.3 431.9,388.3" class="c"/>
<polyline points="431.4,385.9 432.3,385.9 432.3,387.9 431.4,387.9 431.4,385.9" class="c"/>
<polyline points="436.8,394.8 437.5,394.8" class="c"/>
<polyline points="447.1,384.6 447.8,384.6" class="c"/>
<polyline points="375.5,398.7 376.9,398.7 376.9,400.2 375.5,400.2 375.5,398.7" class="c"/>
<polyline points="374.9,403.2 375.8,403.2" class="c"/>
<ellipse cx="442.5" cy="388.6" rx="0.7" ry="2.8" fill="#80FF00" class="r"/>
<ellipse cx="426.8" cy="393.2" rx="1.2" ry="1.2" fill="#80FF00" class="r"/>
<ellipse cx="381.1" cy="395.2" rx="1.6" ry="1.8" fill="#00FF80" class="r"/>
<polygon points="474.8,380.6 477.4,378.4 481,376.6 483.6,375.3 486.3,376.2 488.9,377.1 491.6,379.3 494.2,380.2 497.8,379.3 501.3,379.7 503.1,381.5 505.8,378.4 507.5,377.1 511.9,377.5 515.5,377.5 519,376.6 521.7,377.9 522.1,379.7 519.9,382.4 518.6,385 518.1,388.1 519,390.3 520.8,389.5 522.1,387.2 520.8,385 521.7,383.3 525.2,382.8 527.9,384.1 530,385 530,393.4 527.9,394.3 524.3,396.1 520.8,397.4 517.3,398.7 513.7,400.1 511.1,401.4 508.4,401.8 505.8,401 502.2,399.6 498.7,398.7 496,400.1 494.2,402.3 491.6,404.2 488.1,404.7 485.6,403.6 485.4,402.3 485,399.6 483.6,397.9 481,399.2 477.4,400.5 473.9,400.1 471.7,398.3 470.8,395.6 472.6,393.4 473.9,390.8 476.5,389.5 478.3,387.7 477,385 475.2,383.3" fill="#80FF00"/>
<polygon points="480.5,383.7 483.2,380.6 485.8,382.8 483.6,385.9" fill="#00FF80"/>
<polygon points="503.1,372.2 504.9,370 506.6,367.3 507.5,366 515.5,366 515.9,367.8 514.6,370 511.9,372.2 509.3,374.4 507.5,375.7 504,374.4" fill="#80FF00"/>
<polygon points="454.4,375.3 456.6,373.5 458.8,374.4 459.3,376.2 457.1,377.5 454.9,376.8" fill="#80FF00"/>
<polygon points="461.1,388.6 463.3,386.4 465.9,384.1 468.1,383.7 469.5,385 469,388.1 468.1,391.2 466.4,393.4 464.2,395.6 462.4,395.6 461.5,392.5" fill="#80FF00"/>
<polygon points="450,398.7 452.7,400.3 455.3,398.7 458.8,397.9 462.4,398.7 463.3,401 462.4,403.2 463.3,405 450,405" fill="#80FF00"/>
<polyline points="530,393.4 527.9,394.3 524.3,396.1 520.8,397.4 517.3,398.7 513.7,400.1 511.1,401.4 508.4,401.8 505.8,401 502.2,399.6 498.7,398.7 496,400.1 494.2,402.3 491.6,404.2 488.1,404.7 485.6,403.6 485.4,402.3 485,399.6 483.6,397.9 481,399.2 477.4,400.5 473.9,400.1 471.7,398.3 470.8,395.6 472.6,393.4 473.9,390.8 476.5,389.5 478.3,387.7 477,385 475.2,383.3 474.8,380.6 477.4,378.4 481,376.6 483.6,375.3 486.3,376.2 488.9,377.1 491.6,379.3 494.2,380.2 497.8,379.3 501.3,379.7 503.1,381.5 505.8,378.4 507.5,377.1 511.9,377.5 515.5,377.5 519,376.6 521.7,377.9 522.1,379.7 519.9,382.4 518.6,385 518.1,388.1 519,390.3 520.8,389.5 522.1,387.2 520.8,385 521.7,383.3 525.2,382.8 527.9,384.1 530,385" class="c"/>
<polyline points="480.5,383.7 483.2,380.6 485.8,382.8 483.6,385.9 480.5,383.7" class="c"/>
<polyline points="515.5,366 515.9,367.8 514.6,370 511.9,372.2 509.3,374.4 507.5,375.7 504,374.4 503.1,372.2 504.9,370 506.6,367.3 507.5,366" class="c"/>
<polyline points="454.4,375.3 456.6,373.5 458.8,374.4 459.3,376.2 457.1,377.5 454.9,376.8 454.4,375.3" class="c"/>
<polyline points="461.1,388.6 463.3,386.4 465.9,384.1 468.1,383.7 469.5,385 469,388.1 468.1,391.2 466.4,393.4 464.2,395.6 462.4,395.6 461.5,392.5 461.1,388.6" class="c"/>
<polyline points="450,398.7 452.7,400.3 455.3,398.7 458.8,397.9 462.4,398.7 463.3,401 462.4,403.2 463.3,405" class="c"/>
<polyline points="513.4,394.5 514.2,395.2" class="c"/>
<polyline points="452.2,367.3 453.1,366" class="c"/>
<polyline points="477.3,369.4 478.5,369.4" class="c"/>
<polygon points="560.1,366 568.1,366 570.7,367.3 573.4,369.5 576.9,368.7 580.4,367.3 583.1,366.4 585.8,366 610,366 610,380.2 607.9,381.5 605.2,382.8 604.3,385 601.7,386.8 599,385.9 596.4,384.1 591.9,383.7 588.8,385 587.5,388.1 584.9,390.3 582.2,392.1 580,391.7 577.8,389.5 575.1,388.1 573.4,389.5 572.5,391.2 570.7,393.4 568.9,392.5 566.3,391.7 564.1,392.5 562.7,395.2 560.1,397 557.4,397 554.8,394.8 552.1,393 549.5,391.2 546.8,390.3 544.2,389.9 541.5,387.7 539.7,387.7 541.5,385 541.1,381.9 542.4,379.3 545,377.9 547.3,375.7 549,374 551.2,374 550.8,377.5 551.7,381 553.5,383.7 555.2,385.9 557.4,385.5 560.1,383.7 562.7,382.4 564.1,380.6 561,379.3 558.3,377.5 557.9,374.8 559.2,372.2 560.5,369.5" fill="#80FF00"/>
<polygon points="563.6,374.4 566.3,372.6 569.8,370.9 570.7,372.6 568.1,374.8 565.4,376.2" fill="#00FF80"/>
<polygon points="530,385 531.8,381.2 534,379.7 536.2,380.6 537.1,383.3 536.2,385.9 534,387.7 532.7,389.9 533.5,392.1 531.8,393.4 530,393.4" fill="#80FF00"/>
<polygon points="537.5,373.1 539.7,370.4 540.6,372.6 539.7,375.7 538.4,374.8" fill="#80FF00"/>
<polygon points="568.1,397.9 570.3,394.3 572.5,396.5 574.2,397.4 571.6,400.1 569.4,401" fill="#80FF00"/>
<polygon points="591.1,392.5 593.7,389.5 596.8,388.6 596.4,390.8 593.7,393" fill="#80FF00"/>
<polygon points="547.3,405 548.1,403.2 549.9,401.8 551.7,403.2 552.1,405" fill="#80FF00"/>
<polygon points="562.9,405 564.1,402.3 565.4,401.4 566.7,402.7 567.2,405" fill="#80FF00"/>
<polygon points="571.8,405 572.5,402.7 574.2,401.4 576,402.3 576.9,405" fill="#80FF00"/>
<polyline points="568.1,366 570.7,367.3 573.4,369.5 576.9,368.7 580.4,367.3 583.1,366.4 585.8,366" class="c"/>
<polyline points="610,380.2 607.9,381.5 605.2,382.8 604.3,385 601.7,386.8 599,385.9 596.4,384.1 591.9,383.7 588.8,385 587.5,388.1 584.9,390.3 582.2,392.1 580,391.7 577.8,389.5 575.1,388.1 573.4,389.5 572.5,391.2 570.7,393.4 568.9,392.5 566.3,391.7 564.1,392.5 562.7,395.2 560.1,397 557.4,397 554.8,394.8 552.1,393 549.5,391.2 546.8,390.3 544.2,389.9 541.5,387.7 539.7,387.7 541.5,385 541.1,381.9 542.4,379.3 545,377.9 547.3,375.7 549,374 551.2,374 550.8,377.5 551.7,381 553.5,383.7 555.2,385.9 557.4,385.5 560.1,383.7 562.7,382.4 564.1,380.6 561,379.3 558.3,377.5 557.9,374.8 559.2,372.2 560.5,369.5 560.1,366" class="c"/>
<polyline points="563.6,374.4 566.3,372.6 569.8,370.9 570.7,372.6 568.1,374.8 565.4,376.2 563.6,374.4" class="c"/>
<polyline points="530,385 531.8,381.2 534,379.7 536.2,380.6 537.1,383.3 536.2,385.9 534,387.7 532.7,389.9 533.5,392.1 531.8,393.4 530,393.4" class="c"/>
<polyline points="537.5,373.1 539.7,370.4 540.6,372.6 539.7,375.7 538.4,374.8 537.5,373.1" class="c"/>
<polyline points="568.1,397.9 570.3,394.3 572.5,396.5 574.2,397.4 571.6,400.1 569.4,401 568.1,397.9" class="c"/>
<polyline points="591.1,392.5 593.7,389.5 596.8,388.6 596.4,390.8 593.7,393 591.1,392.5" class="c"/>
<polyline points="547.3,405 548.1,403.2 549.9,401.8 551.7,403.2 552.1,405" class="c"/>
<polyline points="562.9,405 564.1,402.3 565.4,401.4 566.7,402.7 567.2,405" class="c"/>
<polyline points="571.8,405 572.5,402.7 574.2,401.4 576,402.3 576.9,405" class="c"/>
<polyline points="543.1,366.7 544.3,366.7 544.3,367.9 543.1,367.9 543.1,366.7" class="c"/>
<polyline points="589.5,401.4 590.9,401.4" class="c"/>
<polyline points="534,404.5 536.6,404.5" class="c"/>
<ellipse cx="574.5" cy="385" rx="0.9" ry="1.1" fill="#00FF80" class="r"/>
<ellipse cx="595.5" cy="397" rx="1.2" ry="1.2" fill="#80FF00" class="r"/>
<rect x="610" y="366" width="80" height="39" fill="#80FF00"/>
<polygon points="610,366 625,366 624.2,367.8 620.6,369.1 617.1,368.7 613.5,369.1 610.9,370 610,369.5" fill="#00FF80"/>
<polygon points="615.3,374.4 618,373.5 621.5,373.1 619.7,374.8 616.6,376.2 615.5,375.7" fill="#00FF80"/>
<polygon points="610,380.2 612.7,381.9 615.3,383.3 618,382.4 620.6,380.6 624.2,380.2 627.7,379.7 632.1,378.4 635.7,377.9 638.3,376.6 638.8,373.5 640.1,371.3 641.9,370.4 644.1,372.2 644.1,374.8 645,377.5 647.2,379.7 645,381 642.7,382.8 644.1,385 645.4,388.1 648.1,390.3 648.1,392.5 646.3,395.2 644.1,397 641.9,399.2 640.1,399.6 638.8,397 637.4,392.5 636.5,388.1 636.1,385 635.2,388.1 634.8,391.7 632.6,394.3 631.7,396.5 633.5,399.2 634.3,401 636.5,403.2 639.2,405 624.6,405 625,403.2 626.4,401.4 627.3,398.3 625.5,396.5 623.7,397.9 624.2,401 623.3,402.7 620.6,404.1 618.8,405 610,405" fill="#00FF80"/>
<polygon points="613.5,400.1 614.4,398 615.8,397.4 617.3,398.6 617.5,401 616.2,402.3 614.4,401.8" fill="#80FF00"/>
<polygon points="675.5,372.6 677.3,370 680.8,368.7 684.3,369.1 687,370.4 690,370.9 690,381.5 687,381 684.3,381.5 680.8,381.9 678.1,380.6 675.9,377.5" fill="#00FF80"/>
<polygon points="690,385 687.9,384.6 686.1,386.4 683.5,387.2 680.8,389 680.8,391.7 679.9,393.4 683.5,394.3 684.8,396.5 685.2,399.6 684.8,403.2 685.2,405 690,405" fill="#00FF80"/>
<polygon points="690,389 687.9,389.5 686.1,391.2 687,393.4 690,393.9" fill="#80FF00"/>
<polygon points="676.4,397 677.7,394.3 679,397 678.6,401.4 677.3,404.1 676.4,401.4" fill="#00FF80"/>
<polyline points="625,366 624.2,367.8 620.6,369.1 617.1,368.7 613.5,369.1 610.9,370 610,369.5" class="c"/>
<polyline points="615.3,374.4 618,373.5 621.5,373.1 619.7,374.8 616.6,376.2 615.5,375.7 615.3,374.4" class="c"/>
<polyline points="610,380.2 612.7,381.9 615.3,383.3 618,382.4 620.6,380.6 624.2,380.2 627.7,379.7 632.1,378.4 635.7,377.9 638.3,376.6 638.8,373.5 640.1,371.3 641.9,370.4 644.1,372.2 644.1,374.8 645,377.5 647.2,379.7 645,381 642.7,382.8 644.1,385 645.4,388.1 648.1,390.3 648.1,392.5 646.3,395.2 644.1,397 641.9,399.2 640.1,399.6 638.8,397 637.4,392.5 636.5,388.1 636.1,385 635.2,388.1 634.8,391.7 632.6,394.3 631.7,396.5 633.5,399.2 634.3,401 636.5,403.2 639.2,405" class="c"/>
<polyline points="624.6,405 625,403.2 626.4,401.4 627.3,398.3 625.5,396.5 623.7,397.9 624.2,401 623.3,402.7 620.6,404.1 618.8,405" class="c"/>
<polyline points="613.5,400.1 614.4,398 615.8,397.4 617.3,398.6 617.5,401 616.2,402.3 614.4,401.8 613.5,400.1" class="c"/>
<polyline points="690,381.5 687,381 684.3,381.5 680.8,381.9 678.1,380.6 675.9,377.5 675.5,372.6 677.3,370 680.8,368.7 684.3,369.1 687,370.4 690,370.9" class="c"/>
<polyline points="690,385 687.9,384.6 686.1,386.4 683.5,387.2 680.8,389 680.8,391.7 679.9,393.4 683.5,394.3 684.8,396.5 685.2,399.6 684.8,403.2 685.2,405" class="c"/>
<polyline points="690,389 687.9,389.5 686.1,391.2 687,393.4 690,393.9" class="c"/>
<polyline points="676.4,397 677.7,394.3 679,397 678.6,401.4 677.3,404.1 676.4,401.4 676.4,397" class="c"/>
<polyline points="630.4,371.8 631.2,371.8" class="c"/>
<polyline points="625.5,377.5 626.4,377.5" class="c"/>
<polyline points="610,391.8 611.2,391.8 611.2,393.3 610,393.3" class="c"/>
<polyline points="660.4,374.4 662.2,374.4 662.2,376.4 660.4,376.4 660.4,374.4" class="c"/>
<polyline points="661.2,372.6 661.2,374.4" class="c"/>
<polyline points="656.1,394.8 656.8,394.8" class="c"/>
<polyline points="651.1,398.7 651.8,398.7" class="c"/>
<polyline points="661,399.5 661.7,399.5" class="c"/>
<ellipse cx="661.2" cy="370.4" rx="1.4" ry="2.1" fill="#00FF80" class="r"/>
<ellipse cx="666.9" cy="383.3" rx="2.4" ry="3" fill="#00FF80" class="r"/>
<ellipse cx="676.8" cy="385" rx="2.1" ry="1.9" fill="#00FF80" class="r"/>
<ellipse cx="671.2" cy="390.6" rx="1.2" ry="1.2" fill="#00FF80" class="r"/>
<ellipse cx="666.5" cy="395.9" rx="1.9" ry="2.4" fill="#00FF80" class="r"/>
<polygon points="690,366 705,366 703.3,367.3 699.7,368.7 698,370.4 697.1,371.8 693.5,370.9 690,370.4" fill="#80FF00"/>
<polygon points="709,367.8 711.2,366 716.5,366 718.8,367.3 715.7,368.7 713.9,370 711.2,370" fill="#80FF00"/>
<polygon points="740,369.5 743.1,368.2 747.5,366.9 751.1,366 768,366 768,374.4 763.5,374.8 760.8,373.5 757.3,371.8 753.7,370 751.1,369.1 747.5,370 744,371.8 741.3,370.9" fill="#80FF00"/>
<polygon points="727.6,374.8 728.9,373.1 731.6,371.3 734.2,371.8 733.8,374 731.2,375.7 728.5,376.4" fill="#80FF00"/>
<polygon points="693.5,380.2 698,378.8 701.5,377.5 704.2,377.5 707.3,380.2 705.5,382.8 703.7,385.5 702.4,387.2 700.6,385 699.7,382.4 697.5,380.6" fill="#80FF00"/>
<polygon points="690,382.4 692.7,383.3 694,385.9 693.1,389 691.8,391.7 690,392.5" fill="#80FF00"/>
<polygon points="690,396.1 692.2,396.5 693.5,399.6 694,405 690,405" fill="#80FF00"/>
<polygon points="736.5,390.8 739.6,390.3 739.6,393.4 737.8,394.3" fill="#80FF00"/>
<polygon points="720.5,396.5 722.3,394.5 725,395.2 725.4,397.4 723.2,398.9 721,398.3" fill="#80FF00"/>
<polygon points="737.8,400.1 739.6,397.4 743.1,396.5 745.8,398.3 745.8,401 743.5,402.7 740,402.3" fill="#80FF00"/>
<polygon points="752.4,397 755,395.6 758.6,396.5 758.1,398.7 755.5,399.2" fill="#80FF00"/>
<polygon points="756.8,387.2 758.6,385.9 760.4,388.1 761.7,391.2 764.8,393.4 764.3,394.8 760.8,393.4 758.1,390.8" fill="#80FF00"/>
<polygon points="761.7,382.4 763.5,381.2 766.1,383.3 766.5,385 764.3,384.6" fill="#80FF00"/>
<polygon points="722.3,405 722.7,402.3 725.4,401.4 728.1,403.2 730.3,405" fill="#80FF00"/>
<polygon points="753.7,405 755.9,402.7 759,401 761.7,401.8 764.3,404.1 768,403.6 768,405" fill="#80FF00"/>
<polyline points="705,366 703.3,367.3 699.7,368.7 698,370.4 697.1,371.8 693.5,370.9 690,370.4" class="c"/>
<polyline points="716.5,366 718.8,367.3 715.7,368.7 713.9,370 711.2,370 709,367.8 711.2,366" class="c"/>
<polyline points="768,374.4 763.5,374.8 760.8,373.5 757.3,371.8 753.7,370 751.1,369.1 747.5,370 744,371.8 741.3,370.9 740,369.5 743.1,368.2 747.5,366.9 751.1,366" class="c"/>
<polyline points="727.6,374.8 728.9,373.1 731.6,371.3 734.2,371.8 733.8,374 731.2,375.7 728.5,376.4 727.6,374.8" class="c"/>
<polyline points="693.5,380.2 698,378.8 701.5,377.5 704.2,377.5 707.3,380.2 705.5,382.8 703.7,385.5 702.4,387.2 700.6,385 699.7,382.4 697.5,380.6 693.5,380.2" class="c"/>
<polyline points="690,382.4 692.7,383.3 694,385.9 693.1,389 691.8,391.7 690,392.5" class="c"/>
<polyline points="690,396.1 692.2,396.5 693.5,399.6 694,405" class="c"/>
<polyline points="736.5,390.8 739.6,390.3 739.6,393.4 737.8,394.3 736.5,390.8" class="c"/>
<polyline points="720.5,396.5 722.3,394.5 725,395.2 725.4,397.4 723.2,398.9 721,398.3 720.5,396.5" class="c"/>
<polyline points="737.8,400.1 739.6,397.4 743.1,396.5 745.8,398.3 745.8,401 743.5,402.7 740,402.3 737.8,400.1" class="c"/>
<polyline points="752.4,397 755,395.6 758.6,396.5 758.1,398.7 755.5,399.2 752.4,397" class="c"/>
<polyline points="756.8,387.2 758.6,385.9 760.4,388.1 761.7,391.2 764.8,393.4 764.3,394.8 760.8,393.4 758.1,390.8 756.8,387.2" class="c"/>
<polyline points="761.7,382.4 763.5,381.2 766.1,383.3 766.5,385 764.3,384.6 761.7,382.4" class="c"/>
<polyline points="722.3,405 722.7,402.3 725.4,401.4 728.1,403.2 730.3,405" class="c"/>
<polyline points="753.7,405 755.9,402.7 759,401 761.7,401.8 764.3,404.1 768,403.6" class="c"/>
<polyline points="717.4,392.5 718.3,392.5" class="c"/>
<polyline points="727.2,393.3 728.2,392.2 729.3,393.3 727.2,393.3" class="c"/>
<polyline points="712.3,398.7 713.4,399.5 712.3,400.3 712.3,398.7" class="c"/>
<polyline points="759.5,367.6 767,372.4" class="c"/>
<ellipse cx="722.3" cy="388.6" rx="1" ry="1.5" fill="#80FF00" class="r"/>
<ellipse cx="733.4" cy="387.7" rx="1" ry="1.5" fill="#80FF00" class="r"/>
<ellipse cx="707.7" cy="393.9" rx="1.1" ry="1.2" fill="#80FF00" class="r"/>
<ellipse cx="702.8" cy="399.2" rx="1.2" ry="2.9" fill="#80FF00" class="r"/>
<rect x="130" y="405" width="55" height="39" fill="#80FF00"/>
<polygon points="156.5,405 171.6,405 173.4,406.8 176.9,408.5 181.3,409 183.1,407.2 184.4,405 185,405 185,444 183.1,439.5 182.2,438.2 180.4,435.5 178.2,433.8 176,431.5 174.2,428.9 172.5,426.2 170.3,425.4 168.1,423.6 166.3,421.4 163.2,422.7 161,424.5 160.5,428.5 160.1,432.4 158.8,436 156.5,437.3 153.9,435.5 151.2,433.8 149,436 147.3,438.2 145.9,436.9 144.2,434.2 142.8,431.5 140.6,430.2 138.8,428.5 138.8,425.8 140.6,423.6 142.4,424 144.2,426.2 145.5,428.5 147.7,429.8 150.8,428.9 151.2,427.1 149.5,424.9 148.1,422.3 146.8,419.6 144.6,418.3 141.5,416.9 139.3,415.6 139.7,413 141.9,411.4 145,412.5 147.7,413.8 149,413.4 149.9,412.1 152.1,409.9 154.8,407.7" fill="#00FF80"/>
<polygon points="169.4,419.6 171.2,417.8 174.2,416.1 177.8,414.7 181.3,414.1 185,413.3 185,414.9 182.2,415.8 180.9,419.6 179.6,422.7 178.2,425.4 176,424 173.4,422.7 170.7,421.4" fill="#80FF00"/>
<polygon points="185,423 184,424 182.9,427.1 182.9,429.8 184,432 185,433.5" fill="#80FF00"/>
<polygon points="135.3,440.2 138.4,440 145.9,439.1 152.1,438.5 156.5,439.3 161,440.6 165.4,439.7 168.9,440.6 174.2,441.5 185,441.5 185,444 135.3,444" fill="#00FF80"/>
<polyline points="171.6,405 173.4,406.8 176.9,408.5 181.3,409 183.1,407.2 184.4,405" class="c"/>
<polyline points="185,444 183.1,439.5 182.2,438.2 180.4,435.5 178.2,433.8 176,431.5 174.2,428.9 172.5,426.2 170.3,425.4 168.1,423.6 166.3,421.4 163.2,422.7 161,424.5 160.5,428.5 160.1,432.4 158.8,436 156.5,437.3 153.9,435.5 151.2,433.8 149,436 147.3,438.2 145.9,436.9 144.2,434.2 142.8,431.5 140.6,430.2 138.8,428.5 138.8,425.8 140.6,423.6 142.4,424 144.2,426.2 145.5,428.5 147.7,429.8 150.8,428.9 151.2,427.1 149.5,424.9 148.1,422.3 146.8,419.6 144.6,418.3 141.5,416.9 139.3,415.6 139.7,413 141.9,411.4 145,412.5 147.7,413.8 149,413.4 149.9,412.1 152.1,409.9 154.8,407.7 156.5,405" class="c"/>
<polyline points="185,414.9 182.2,415.8 180.9,419.6 179.6,422.7 178.2,425.4 176,424 173.4,422.7 170.7,421.4 169.4,419.6 171.2,417.8 174.2,416.1 177.8,414.7 181.3,414.1 185,413.3" class="c"/>
<polyline points="185,423 184,424 182.9,427.1 182.9,429.8 184,432 185,433.5" class="c"/>
<polyline points="135.3,444 135.3,440.2 138.4,440 145.9,439.1 152.1,438.5 156.5,439.3 161,440.6 165.4,439.7 168.9,440.6 174.2,441.5 185,441.5" class="c"/>
<ellipse cx="151.5" cy="414.3" rx="1" ry="1" fill="#80FF00" class="r"/>
<ellipse cx="165.8" cy="433.5" rx="1.2" ry="1.2" fill="#00FF80" class="r"/>
<rect x="185" y="402" width="60" height="39" fill="#80FF00"/>
<polygon points="185,404.3 186.3,403.7 189,402 193.6,402 196.3,403.3 196.9,406 197.6,408.6 196.3,410.6 193.6,412.6 189,413.6 185,413.3" fill="#00FF80"/>
<polygon points="198.3,404 199.6,402 204.2,402 206.2,404 207.6,406 206.2,407.6 202.9,408.3 199.6,408.6 197.9,407.3" fill="#00FF80"/>
<polygon points="185,414.9 188.3,415.9 191.6,417.9 192.3,418.9 195,416.3 198.3,414.3 201.6,413.3 204.9,413.6 207.6,415.6 210.9,417.3 213.5,418.3 211.5,419.9 208.2,420.9 206.2,422.6 204.9,424.9 204.6,426.9 202.3,427.9 200.3,427.2 198.3,424.9 196.3,425.2 195.6,428.5 195.9,431.2 195,433.9 195.6,435.8 193,437.8 190.3,439.2 189.6,441 185,441" fill="#00FF80"/>
<polygon points="185,423.2 187.7,422.6 189.6,423.9 190.3,427.9 190,431.2 187.7,433.9 185.7,434.2 185,433.2" fill="#80FF00"/>
<polygon points="236.1,402 234.8,404.7 234.1,407.3 231.4,409 228.1,411 225.5,409.6 222.8,408.6 220.8,409.6 219.5,412 220.8,414.3 223.5,416.3 225.5,418.6 228.1,419.9 230.8,418.9 232.8,416.9 235.4,416.3 238.1,417.3 240.1,417.9 239.4,419.6 237.4,420.9 234.1,421.6 232.1,423.2 229.5,424.9 226.8,426.2 226.5,428.5 227.5,430.9 230.1,430.2 232.1,428.5 232.8,426.6 234.8,426.2 235.1,428.5 235.4,431.9 236.4,434.5 236.1,436.5 233.4,437.2 230.1,437.5 226.1,438.2 222.2,438.5 219.5,438.8 214.9,439.2 210.9,439.2 208.9,437.2 207.6,435.5 204.9,436.5 202.3,438.2 199.6,440.5 198.6,441 245,441 245,402" fill="#00FF80"/>
<polygon points="241.4,416.3 243.4,415.3 245,415.3 245,417.6 242.7,417.4" fill="#80FF00"/>
<polyline points="185,404.3 186.3,403.7 189,402" class="c"/>
<polyline points="193.6,402 196.3,403.3 196.9,406 197.6,408.6 196.3,410.6 193.6,412.6 189,413.6 185,413.3" class="c"/>
<polyline points="204.2,402 206.2,404 207.6,406 206.2,407.6 202.9,408.3 199.6,408.6 197.9,407.3 198.3,404 199.6,402" class="c"/>
<polyline points="185,414.9 188.3,415.9 191.6,417.9 192.3,418.9 195,416.3 198.3,414.3 201.6,413.3 204.9,413.6 207.6,415.6 210.9,417.3 213.5,418.3 211.5,419.9 208.2,420.9 206.2,422.6 204.9,424.9 204.6,426.9 202.3,427.9 200.3,427.2 198.3,424.9 196.3,425.2 195.6,428.5 195.9,431.2 195,433.9 195.6,435.8 193,437.8 190.3,439.2 189.6,441" class="c"/>
<polyline points="185,423.2 187.7,422.6 189.6,423.9 190.3,427.9 190,431.2 187.7,433.9 185.7,434.2 185,433.2" class="c"/>
<polyline points="236.1,402 234.8,404.7 234.1,407.3 231.4,409 228.1,411 225.5,409.6 222.8,408.6 220.8,409.6 219.5,412 220.8,414.3 223.5,416.3 225.5,418.6 228.1,419.9 230.8,418.9 232.8,416.9 235.4,416.3 238.1,417.3 240.1,417.9 239.4,419.6 237.4,420.9 234.1,421.6 232.1,423.2 229.5,424.9 226.8,426.2 226.5,428.5 227.5,430.9 230.1,430.2 232.1,428.5 232.8,426.6 234.8,426.2 235.1,428.5 235.4,431.9 236.4,434.5 236.1,436.5 233.4,437.2 230.1,437.5 226.1,438.2 222.2,438.5 219.5,438.8 214.9,439.2 210.9,439.2 208.9,437.2 207.6,435.5 204.9,436.5 202.3,438.2 199.6,440.5 198.6,441" class="c"/>
<polyline points="245,417.6 242.7,417.4 241.4,416.3 243.4,415.3 245,415.3" class="c"/>
<polyline points="217.5,405.3 220.8,405.3 220.8,406.1 217.5,406.1 217.5,405.3" class="c"/>
<polyline points="212.3,409.3 213.4,409.3 213.4,410.2 212.3,410.2 212.3,409.3" class="c"/>
<polyline points="237.8,424.9 238.4,424.9" class="c"/>
<polygon points="245.4,424 246.7,421.4 248.5,419.2 251.6,420.5 254.7,422.3 255.6,424 253.4,426.2 250.7,427.6 248.5,429.3 246.3,426.7" fill="#80FF00"/>
<polygon points="245,415.4 248.1,414.3 249.8,412.1 252.9,410.3 255.1,411.6 256.5,413.8 253.8,415.2 249.8,416.3 245,416.9" fill="#80FF00"/>
<polygon points="260.9,409 262.2,406.3 264.9,405.9 267.1,407.7 268,411.2 268.4,414.3 268.8,418.3 271.1,416.9 273.7,414.7 276.4,413.4 279,412.1 280.8,413.8 283.5,416.1 285.7,413.8 287,410.3 287.4,406.8 287.9,405 290,405 290,421.8 287,422.3 283.5,422.3 279.9,423.1 278.1,424.9 273.7,424 270.2,425.8 267.5,424.9 265.8,422.3 263.1,420 261.3,418.3 258.2,420 259.6,417.4 261.3,414.7 260.9,411.6" fill="#80FF00"/>
<polygon points="274.6,419.2 277.3,417.4 279.9,416.9 281.7,418.7 279,420.5 276.4,420.9" fill="#00FF80"/>
<polygon points="258.5,440 260,437.7 263.1,436 265.3,438.2 265.8,440.4 263.1,441.7 259.6,441.5" fill="#80FF00"/>
<polygon points="290,428.9 287.9,430.7 286.5,433.3 287,436.9 288.3,440 290,441.3" fill="#80FF00"/>
<polygon points="278.1,405 279.5,406.9 280.8,405" fill="#80FF00"/>
<polyline points="245.4,424 246.7,421.4 248.5,419.2 251.6,420.5 254.7,422.3 255.6,424 253.4,426.2 250.7,427.6 248.5,429.3 246.3,426.7 245.4,424" class="c"/>
<polyline points="245,415.4 248.1,414.3 249.8,412.1 252.9,410.3 255.1,411.6 256.5,413.8 253.8,415.2 249.8,416.3 245,416.9" class="c"/>
<polyline points="290,421.8 287,422.3 283.5,422.3 279.9,423.1 278.1,424.9 273.7,424 270.2,425.8 267.5,424.9 265.8,422.3 263.1,420 261.3,418.3 258.2,420 259.6,417.4 261.3,414.7 260.9,411.6 260.9,409 262.2,406.3 264.9,405.9 267.1,407.7 268,411.2 268.4,414.3 268.8,418.3 271.1,416.9 273.7,414.7 276.4,413.4 279,412.1 280.8,413.8 283.5,416.1 285.7,413.8 287,410.3 287.4,406.8 287.9,405" class="c"/>
<polyline points="274.6,419.2 277.3,417.4 279.9,416.9 281.7,418.7 279,420.5 276.4,420.9 274.6,419.2" class="c"/>
<polyline points="258.5,440 260,437.7 263.1,436 265.3,438.2 265.8,440.4 263.1,441.7 259.6,441.5 258.5,440" class="c"/>
<polyline points="290,428.9 287.9,430.7 286.5,433.3 287,436.9 288.3,440 290,441.3" class="c"/>
<polyline points="278.1,405 279.5,406.9 280.8,405" class="c"/>
<polyline points="272.9,429.3 273.6,429.3" class="c"/>
<polygon points="290,405 295.3,405 294.4,407.7 292.7,409.4 293.1,413 293.5,416.5 292.2,419.6 290,420.9" fill="#80FF00"/>
<polygon points="290,430.7 291.8,432.4 293.1,436 292.7,439.5 290,440.4" fill="#80FF00"/>
<polygon points="298.4,405 309,405 310.4,406.8 313.9,406.3 316.5,407.7 317.9,410.8 318.8,413.8 319.2,416.5 316.5,417.8 314.8,420 313,422.7 312.1,426.2 310.8,429.3 309,431.1 307.7,428.9 306.8,425.8 306.4,422.7 305.5,420 302.4,418.3 299.7,418.3 297.5,417.4 298.8,415.6 301.5,414.3 300.2,412.1 298.4,410.3 299.7,408.1" fill="#80FF00"/>
<polygon points="308.1,416.9 309.9,415.2 311.7,418.3" fill="#00FF80"/>
<polygon points="296.6,425.8 298,423.6 300.2,423.1 301.1,425.4 300.2,428.5 299.7,431.1 301.5,432.9 305,434.2 309,435.1 312.1,433.3 314.8,431.5 317.4,433.3 318.8,435.5 321,438.2 322.3,439.5 319.2,440 315.7,440.4 312.1,440 309,438.6 307.7,440.8 304.2,440.4 302.4,438.2 300.6,436 298.4,433.8 297.1,430.7" fill="#80FF00"/>
<polygon points="317.9,423.6 319.6,421.8 323.2,422.3 325.8,424.5 327.6,427.6 326.3,430.2 323.6,431.4 321,429.3 318.8,426.7" fill="#80FF00"/>
<polygon points="326.3,405 370,405 370,406.8 367,408.1 363.5,409.9 359.9,412.1 356.4,413.8 352.8,416.1 351.1,416.9 348.4,420 345.8,422.7 342.2,424 338.7,425.8 337.3,427.6 340.4,428.2 344,426.2 347.5,425.8 351.1,426.7 353.3,428.9 356.4,428.5 359,425.8 360.8,424 362.6,425.8 362.1,428.5 360.4,431.1 359.9,434.2 362.1,436.4 365.2,438.2 367.9,440 370,440.8 370,444 343.1,444 343.1,440.4 342.2,437.3 339.6,434.2 337.3,431.5 335.6,428 334.2,424.9 332.5,421.8 329.8,419.6 328.9,416.5 327.2,413.4 324.5,410.3 322.3,408.1 324.1,405.9" fill="#80FF00"/>
<polygon points="333.4,408.1 335.1,406.6 336.9,407.7 336,409.9 334.2,409.4" fill="#00FF80"/>
<polygon points="358.6,417.4 363.5,413.1 370,409.9 370,433.3 368.3,429.6 365.9,426 362.2,423.5 359.8,420.4" fill="#80FF00"/>
<polyline points="295.3,405 294.4,407.7 292.7,409.4 293.1,413 293.5,416.5 292.2,419.6 290,420.9" class="c"/>
<polyline points="290,430.7 291.8,432.4 293.1,436 292.7,439.5 290,440.4" class="c"/>
<polyline points="309,405 310.4,406.8 313.9,406.3 316.5,407.7 317.9,410.8 318.8,413.8 319.2,416.5 316.5,417.8 314.8,420 313,422.7 312.1,426.2 310.8,429.3 309,431.1 307.7,428.9 306.8,425.8 306.4,422.7 305.5,420 302.4,418.3 299.7,418.3 297.5,417.4 298.8,415.6 301.5,414.3 300.2,412.1 298.4,410.3 299.7,408.1 298.4,405" class="c"/>
<polyline points="308.1,416.9 309.9,415.2 311.7,418.3 308.1,416.9" class="c"/>
<polyline points="296.6,425.8 298,423.6 300.2,423.1 301.1,425.4 300.2,428.5 299.7,431.1 301.5,432.9 305,434.2 309,435.1 312.1,433.3 314.8,431.5 317.4,433.3 318.8,435.5 321,438.2 322.3,439.5 319.2,440 315.7,440.4 312.1,440 309,438.6 307.7,440.8 304.2,440.4 302.4,438.2 300.6,436 298.4,433.8 297.1,430.7 296.6,425.8" class="c"/>
<polyline points="317.9,423.6 319.6,421.8 323.2,422.3 325.8,424.5 327.6,427.6 326.3,430.2 323.6,431.4 321,429.3 318.8,426.7 317.9,423.6" class="c"/>
<polyline points="370,406.8 367,408.1 363.5,409.9 359.9,412.1 356.4,413.8 352.8,416.1 351.1,416.9 348.4,420 345.8,422.7 342.2,424 338.7,425.8 337.3,427.6 340.4,428.2 344,426.2 347.5,425.8 351.1,426.7 353.3,428.9 356.4,428.5 359,425.8 360.8,424 362.6,425.8 362.1,428.5 360.4,431.1 359.9,434.2 362.1,436.4 365.2,438.2 367.9,440 370,440.8" class="c"/>
<polyline points="343.1,444 343.1,440.4 342.2,437.3 339.6,434.2 337.3,431.5 335.6,428 334.2,424.9 332.5,421.8 329.8,419.6 328.9,416.5 327.2,413.4 324.5,410.3 322.3,408.1 324.1,405.9 326.3,405" class="c"/>
<polyline points="333.4,408.1 335.1,406.6 336.9,407.7 336,409.9 334.2,409.4 333.4,408.1" class="c"/>
<polyline points="370,433.3 368.3,429.6 365.9,426 362.2,423.5 359.8,420.4 358.6,417.4 363.5,413.1 370,409.9" class="c"/>
<polyline points="343.5,412.8 346.6,412.8 346.6,414.6 343.5,414.6 343.5,412.8" class="c"/>
<polyline points="334.7,418.3 335.6,418.3" class="c"/>
<polyline points="350.6,416.5 351.5,416.5" class="c"/>
<polyline points="309.5,405.9 312.1,405.9" class="c"/>
<ellipse cx="330.3" cy="439.1" rx="1.2" ry="1.2" fill="#80FF00" class="r"/>
<polygon points="378.8,405 405.4,405 403.6,406.8 400.1,409 396.5,411.2 393.9,413 391.2,413.4 387.7,411.6 384.2,409.9 379.7,407.7" fill="#80FF00"/>
<polygon points="370,411.2 372.7,409.4 376.2,408.5 378.4,410.3 379.3,413.8 381.5,416.1 383.7,418.3 385.5,421.4 387.3,423.1 384.2,422.3 380.6,420.9 378,419.6 375.8,420 376.4,423.6 377.1,427.1 377.1,430.7 375.8,433.3 373.5,434 370,434.6" fill="#80FF00"/>
<polygon points="410.3,405 410.7,408.5 411.6,410.3 413.4,408.5 416.9,407.2 421.3,406.8 423.1,409 426.6,409.9 431.1,408.5 435.5,406.8 439,406.3 440.8,409 442.6,411.6 444.3,414.7 445.2,418.3 445.7,422.7 447,426.2 448.3,424 450,423.6 450,405" fill="#80FF00"/>
<polygon points="450,434.2 447.9,431.5 446.1,429.8 443.5,431.5 441.7,428.9 440.8,425.4 439.9,422.3 437.7,420 435.5,421.4 433.3,424.9 431.1,428.5 428.4,431.5 425.8,434.6 423.1,437.3 420.4,439.1 416,439.1 419.6,440 424,441.1 450,441.5" fill="#80FF00"/>
<polygon points="403.2,418.3 404.1,415.6 406.3,414.3 408.9,415.6 409.4,418.7 408.1,421.4 405.8,422.3 403.6,420.5" fill="#80FF00"/>
<polygon points="392.6,424 393.9,421.8 396.5,421.4 398.8,423.6 398.3,426.7 396.1,428.2 393.5,426.7" fill="#80FF00"/>
<polygon points="383.3,433.3 384.6,429.3 386.4,425.8 388.1,428.5 390.8,430.7 393,432.4 393.5,435.5 390.8,437.6 386.8,437.6 384.2,435.5" fill="#80FF00"/>
<polygon points="413.4,423.1 415.1,421.4 417.3,420.5 419.6,422.3 421.3,424 423.5,424.6 420.4,425.8 416.9,426.7 414.7,425.8" fill="#80FF00"/>
<polyline points="405.4,405 403.6,406.8 400.1,409 396.5,411.2 393.9,413 391.2,413.4 387.7,411.6 384.2,409.9 379.7,407.7 378.8,405" class="c"/>
<polyline points="370,411.2 372.7,409.4 376.2,408.5 378.4,410.3 379.3,413.8 381.5,416.1 383.7,418.3 385.5,421.4 387.3,423.1 384.2,422.3 380.6,420.9 378,419.6 375.8,420 376.4,423.6 377.1,427.1 377.1,430.7 375.8,433.3 373.5,434 370,434.6" class="c"/>
<polyline points="410.3,405 410.7,408.5 411.6,410.3 413.4,408.5 416.9,407.2 421.3,406.8 423.1,409 426.6,409.9 431.1,408.5 435.5,406.8 439,406.3 440.8,409 442.6,411.6 444.3,414.7 445.2,418.3 445.7,422.7 447,426.2 448.3,424 450,423.6" class="c"/>
<polyline points="450,434.2 447.9,431.5 446.1,429.8 443.5,431.5 441.7,428.9 440.8,425.4 439.9,422.3 437.7,420 435.5,421.4 433.3,424.9 431.1,428.5 428.4,431.5 425.8,434.6 423.1,437.3 420.4,439.1 416,439.1 419.6,440 424,441.1 450,441.5" class="c"/>
<polyline points="403.2,418.3 404.1,415.6 406.3,414.3 408.9,415.6 409.4,418.7 408.1,421.4 405.8,422.3 403.6,420.5 403.2,418.3" class="c"/>
<polyline points="392.6,424 393.9,421.8 396.5,421.4 398.8,423.6 398.3,426.7 396.1,428.2 393.5,426.7 392.6,424" class="c"/>
<polyline points="383.3,433.3 384.6,429.3 386.4,425.8 388.1,428.5 390.8,430.7 393,432.4 393.5,435.5 390.8,437.6 386.8,437.6 384.2,435.5 383.3,433.3" class="c"/>
<polyline points="413.4,423.1 415.1,421.4 417.3,420.5 419.6,422.3 421.3,424 423.5,424.6 420.4,425.8 416.9,426.7 414.7,425.8 413.4,423.1" class="c"/>
<polyline points="416.5,426.2 416.5,430" class="c"/>
<polyline points="426.2,426.2 428,426.2" class="c"/>
<polyline points="370,418.3 372.7,418.3" class="c"/>
<polyline points="395.3,418.5 396.4,417.4 397.4,418.5 396.4,419.5 395.3,418.5" class="c"/>
<ellipse cx="416.7" cy="432.3" rx="2.3" ry="2.4" fill="#80FF00" class="r"/>
<ellipse cx="411.4" cy="412.3" rx="1" ry="1" fill="#80FF00" class="r"/>
<polygon points="458.4,405 466.8,405 467.3,407.7 466.4,410.8 464.2,413 461.5,412.1 459.7,409.4 458.8,407.2" fill="#80FF00"/>
<polygon points="450,405 452.7,405 451.3,407.7 450.9,413 451.3,418.3 450,421.8" fill="#80FF00"/>
<polygon points="450,433.3 453.5,433.8 458,433.3 460.6,431.5 461.1,428.9 459.3,426.7 456.6,425.4 458,422.7 461.5,421.4 463.3,422.3 464.2,425.8 466.4,428.5 468.1,430.7 467.3,433.3 469.5,435.5 471.2,437.3 470.8,439.5 467.7,440.4 463.3,440.8 450,441.5" fill="#80FF00"/>
<polygon points="469,412.1 470.4,409 473.5,407.2 475.7,409.9 478.3,411.2 480.1,408.5 483.2,406.8 485.4,409 485.8,412.1 488.1,413.8 491.2,413 493.8,410.8 495.1,413.8 493.8,416.9 496.9,419.2 500.4,421.4 503.1,424.5 505.8,427.6 506.6,430.7 503.1,432.4 499.6,434.2 496,436 492.5,436.9 488.9,434.6 486.3,432.4 484.5,431.1 486.3,428.9 488.5,426.2 489.8,423.1 488.9,420.9 486.3,422.3 483.2,424 480.1,423.1 477,424 476.1,425.4 478.3,427.1 480.1,429.3 478.3,431.1 475.7,429.8 473.5,427.6 471.7,424.5 470.8,420.9 469.5,416.5" fill="#80FF00"/>
<polygon points="496.7,409 498.2,407.5 500.4,408.1 500.9,409.4 499.1,410.3 497.3,410.1" fill="#80FF00"/>
<polygon points="505.8,413.8 508.4,413 511.9,414.7 514.6,413.8 516.4,410.8 519.9,409 523.5,408.5 527,408.7 530,409 530,424 527,424.5 524.8,425.4 525.2,428 526.5,431.5 527.9,434.6 530,436 530,441.5 515.5,441.5 515,438.6 517.3,435.5 518.6,433.3 516.8,430.7 515.9,427.6 517.3,424.5 519.5,422.7 516.4,421.8 512.8,421.8 510.2,423.6 507.5,424.9 505.8,424 508.4,421.4 510.6,419.2 508.8,416.9 506.6,415.6" fill="#80FF00"/>
<polygon points="506.2,435.5 508,432.9 510.2,434.2 512.4,436.4 511.9,439.1 509.3,440 506.6,439.1" fill="#80FF00"/>
<polyline points="466.8,405 467.3,407.7 466.4,410.8 464.2,413 461.5,412.1 459.7,409.4 458.8,407.2 458.4,405" class="c"/>
<polyline points="452.7,405 451.3,407.7 450.9,413 451.3,418.3 450,421.8" class="c"/>
<polyline points="450,433.3 453.5,433.8 458,433.3 460.6,431.5 461.1,428.9 459.3,426.7 456.6,425.4 458,422.7 461.5,421.4 463.3,422.3 464.2,425.8 466.4,428.5 468.1,430.7 467.3,433.3 469.5,435.5 471.2,437.3 470.8,439.5 467.7,440.4 463.3,440.8 450,441.5" class="c"/>
<polyline points="469,412.1 470.4,409 473.5,407.2 475.7,409.9 478.3,411.2 480.1,408.5 483.2,406.8 485.4,409 485.8,412.1 488.1,413.8 491.2,413 493.8,410.8 495.1,413.8 493.8,416.9 496.9,419.2 500.4,421.4 503.1,424.5 505.8,427.6 506.6,430.7 503.1,432.4 499.6,434.2 496,436 492.5,436.9 488.9,434.6 486.3,432.4 484.5,431.1 486.3,428.9 488.5,426.2 489.8,423.1 488.9,420.9 486.3,422.3 483.2,424 480.1,423.1 477,424 476.1,425.4 478.3,427.1 480.1,429.3 478.3,431.1 475.7,429.8 473.5,427.6 471.7,424.5 470.8,420.9 469.5,416.5 469,412.1" class="c"/>
<polyline points="496.7,409 498.2,407.5 500.4,408.1 500.9,409.4 499.1,410.3 497.3,410.1 496.7,409" class="c"/>
<polyline points="530,441.5 515.5,441.5 515,438.6 517.3,435.5 518.6,433.3 516.8,430.7 515.9,427.6 517.3,424.5 519.5,422.7 516.4,421.8 512.8,421.8 510.2,423.6 507.5,424.9 505.8,424 508.4,421.4 510.6,419.2 508.8,416.9 506.6,415.6 505.8,413.8 508.4,413 511.9,414.7 514.6,413.8 516.4,410.8 519.9,409 523.5,408.5 527,408.7 530,409" class="c"/>
<polyline points="530,424 527,424.5 524.8,425.4 525.2,428 526.5,431.5 527.9,434.6 530,436" class="c"/>
<polyline points="506.2,435.5 508,432.9 510.2,434.2 512.4,436.4 511.9,439.1 509.3,440 506.6,439.1 506.2,435.5" class="c"/>
<rect x="530" y="405" width="80" height="39" fill="#80FF00"/>
<polygon points="536.6,410.3 538.8,409 541.1,410.3 541.5,413.4 542.4,416.1 541.9,419.6 539.7,421.4 537.5,420 538.4,417.4 538.8,415.2 537.1,413" fill="#00FF80"/>
<polygon points="548.1,412.5 550.4,413.4 553.9,412.5 556.1,409.9 559.2,408.5 561.4,409.9 563.2,409.4 565.4,409 567.6,410.3 568.1,413 566.3,414.7 563.6,414.9 562,413 560.5,414.3 558.3,416.1 555.7,416.9 553,418.3 550.4,419.6 548.6,418.3 547.7,415.6" fill="#00FF80"/>
<polygon points="573.4,408.5 576,407.7 579.6,407.2 582.9,407.5 584.2,409 586.6,408.5 587.3,405 598.6,405 597.3,405.9 595.9,407.7 598.1,409.4 600.8,411.2 602.6,413.8 600.8,416.5 597.3,417.4 593.7,416.5 590.2,415.6 586.6,416.1 583.1,416.5 578.7,416.5 575.1,415.6 573.4,413" fill="#00FF80"/>
<polygon points="577.3,412.1 579.6,409.9 583.1,410.3 585.3,413.4 582.2,415.2 578.7,414.3" fill="#80FF00"/>
<polygon points="568.1,418.3 570.7,417.4 573.4,419.2 576.9,420.5 580.4,421.4 579.6,423.1 576,422.3 572.5,421.8 569.8,424 568.1,422.3" fill="#00FF80"/>
<polygon points="530,422.7 533.1,420.5 534.4,417.8 536.2,420 538.8,422.3 541.5,421.4 544.2,419.2 547.7,420.5 549.9,424 551.7,427.1 550.4,430.7 549,434.6 553,435.3 556.5,434.2 558.3,432 560.1,428.9 562.7,426.2 565,424.9 566.3,426.7 568.1,428.9 570.7,429.8 572.5,431.5 571.2,435.1 570.3,438.2 571.6,441.5 530,441.5" fill="#00FF80"/>
<polygon points="530,430.7 532.7,429.3 535.3,429.8 538,431.5 538.4,435.1 537.1,438.6 534.4,440.4 530,440.8" fill="#80FF00"/>
<polygon points="540.6,438.2 542.4,435.5 545.5,435.1 548.6,437.3 549.9,439.5 546.8,440.4 542.4,440.4" fill="#80FF00"/>
<polygon points="580.4,431.5 583.1,432.4 585.8,431.5 588.4,429.8 586.6,428 584,426.7 587.5,426.1 591.1,426.7 591.9,428.9 595.5,430.7 599,432.4 602.6,434.2 606.1,433.8 610,434.2 610,441.5 576,441.5 577.8,437.7 578.7,434.2" fill="#00FF80"/>
<polygon points="582.7,438.2 584,436.4 586.2,435.5 587.1,437.3 585.3,439.1 583.1,439.3" fill="#80FF00"/>
<polygon points="600.8,405.4 604.3,406.8 607,409.9 608.3,413.4 607.9,416.9 605.2,419.2 602.6,420.9 603.5,423.1 606.1,422.7 608.8,420.5 610,419.2 610,405 599.9,405" fill="#00FF80"/>
<polyline points="536.6,410.3 538.8,409 541.1,410.3 541.5,413.4 542.4,416.1 541.9,419.6 539.7,421.4 537.5,420 538.4,417.4 538.8,415.2 537.1,413 536.6,410.3" class="c"/>
<polyline points="548.1,412.5 550.4,413.4 553.9,412.5 556.1,409.9 559.2,408.5 561.4,409.9 563.2,409.4 565.4,409 567.6,410.3 568.1,413 566.3,414.7 563.6,414.9 562,413 560.5,414.3 558.3,416.1 555.7,416.9 553,418.3 550.4,419.6 548.6,418.3 547.7,415.6 548.1,412.5" class="c"/>
<polyline points="598.6,405 597.3,405.9 595.9,407.7 598.1,409.4 600.8,411.2 602.6,413.8 600.8,416.5 597.3,417.4 593.7,416.5 590.2,415.6 586.6,416.1 583.1,416.5 578.7,416.5 575.1,415.6 573.4,413 573.4,408.5 576,407.7 579.6,407.2 582.9,407.5 584.2,409 586.6,408.5 587.3,405" class="c"/>
<polyline points="577.3,412.1 579.6,409.9 583.1,410.3 585.3,413.4 582.2,415.2 578.7,414.3 577.3,412.1" class="c"/>
<polyline points="568.1,418.3 570.7,417.4 573.4,419.2 576.9,420.5 580.4,421.4 579.6,423.1 576,422.3 572.5,421.8 569.8,424 568.1,422.3 568.1,418.3" class="c"/>
<polyline points="530,422.7 533.1,420.5 534.4,417.8 536.2,420 538.8,422.3 541.5,421.4 544.2,419.2 547.7,420.5 549.9,424 551.7,427.1 550.4,430.7 549,434.6 553,435.3 556.5,434.2 558.3,432 560.1,428.9 562.7,426.2 565,424.9 566.3,426.7 568.1,428.9 570.7,429.8 572.5,431.5 571.2,435.1 570.3,438.2 571.6,441.5 530,441.5" class="c"/>
<polyline points="530,430.7 532.7,429.3 535.3,429.8 538,431.5 538.4,435.1 537.1,438.6 534.4,440.4 530,440.8" class="c"/>
<polyline points="540.6,438.2 542.4,435.5 545.5,435.1 548.6,437.3 549.9,439.5 546.8,440.4 542.4,440.4 540.6,438.2" class="c"/>
<polyline points="610,441.5 576,441.5 577.8,437.7 578.7,434.2 580.4,431.5 583.1,432.4 585.8,431.5 588.4,429.8 586.6,428 584,426.7 587.5,426.1 591.1,426.7 591.9,428.9 595.5,430.7 599,432.4 602.6,434.2 606.1,433.8 610,434.2" class="c"/>
<polyline points="582.7,438.2 584,436.4 586.2,435.5 587.1,437.3 585.3,439.1 583.1,439.3 582.7,438.2" class="c"/>
<polyline points="599.9,405 600.8,405.4 604.3,406.8 607,409.9 608.3,413.4 607.9,416.9 605.2,419.2 602.6,420.9 603.5,423.1 606.1,422.7 608.8,420.5 610,419.2" class="c"/>
<ellipse cx="564.5" cy="412.1" rx="0.9" ry="0.9" fill="#00FF80" class="r"/>
<rect x="610" y="405" width="80" height="39" fill="#80FF00"/>
<polygon points="610,405 642.7,405 642.3,407.7 640.5,409.9 640.1,412.5 642.7,413.4 645.4,412.5 648.9,413 651.6,414.7 652.5,416.9 650.3,418.7 648.1,420.5 645.8,422.7 644.5,424.9 646.3,427.1 645.8,429.3 647.2,431.5 646.7,434.6 643.6,433.3 641,432.9 640.5,435.5 639.2,437.7 639.6,440 641.9,441.5 610,441.5" fill="#00FF80"/>
<polygon points="619.7,405 618.8,408.5 616.2,410.3 615.8,412.5 618,415.2 619.7,416.9 624.2,416.9 628.6,416.5 631.2,415.6 630.8,412.5 629,409.9 626.8,407.7 625,405.9 624.2,405" fill="#80FF00"/>
<polygon points="610,420.5 612.2,421.4 614,423.6 614.4,427.1 613.5,430.2 610,431.5" fill="#80FF00"/>
<polygon points="617.5,424.5 618.8,422.7 621.1,422.3 623.3,424.5 623.7,428 621.5,429.8 618.4,429.6 617.3,427.1" fill="#80FF00"/>
<polygon points="638.5,418.1 640.5,415.6 643.2,416.1 643.6,418.3 641.9,420.2 639.6,419.6" fill="#80FF00"/>
<polygon points="661.8,409.4 664.9,409 669.3,409.2 669.7,410.8 667.5,413 664.4,413.1 662.2,411.4" fill="#00FF80"/>
<polygon points="653.4,426.7 656.5,423.1 658.7,424 660.9,426.2 659.1,429.3 656.5,431.5 654.7,429.3" fill="#00FF80"/>
<polygon points="664,426.7 665.8,423.6 667.5,420.9 670.2,418.3 672.8,417.4 675.5,418.3 678.1,419.6 680.8,421.8 683.5,420.9 681.7,419.2 679.5,417.8 679,416.1 681.7,414.7 685.2,413.4 687.9,413 690,414.7 690,428.9 687,428.5 684.3,427.6 680.8,428.9 678.1,428.5 675.9,427.1 673.7,424.9 671.1,424.5 668.8,426.2 668.4,428.9 668.8,431.5 666.6,433.3 664.9,431.1 663.5,428.5" fill="#00FF80"/>
<polygon points="690,415.6 687.9,416.1 686.5,417.8 688.3,419.2 690,419.6" fill="#80FF00"/>
<polygon points="680.8,407.2 683.5,405.9 685.2,406.8 683.5,409.4 681.7,409" fill="#00FF80"/>
<polyline points="642.7,405 642.3,407.7 640.5,409.9 640.1,412.5 642.7,413.4 645.4,412.5 648.9,413 651.6,414.7 652.5,416.9 650.3,418.7 648.1,420.5 645.8,422.7 644.5,424.9 646.3,427.1 645.8,429.3 647.2,431.5 646.7,434.6 643.6,433.3 641,432.9 640.5,435.5 639.2,437.7 639.6,440 641.9,441.5 610,441.5" class="c"/>
<polyline points="619.7,405 618.8,408.5 616.2,410.3 615.8,412.5 618,415.2 619.7,416.9 624.2,416.9 628.6,416.5 631.2,415.6 630.8,412.5 629,409.9 626.8,407.7 625,405.9 624.2,405" class="c"/>
<polyline points="610,420.5 612.2,421.4 614,423.6 614.4,427.1 613.5,430.2 610,431.5" class="c"/>
<polyline points="617.5,424.5 618.8,422.7 621.1,422.3 623.3,424.5 623.7,428 621.5,429.8 618.4,429.6 617.3,427.1 617.5,424.5" class="c"/>
<polyline points="638.5,418.1 640.5,415.6 643.2,416.1 643.6,418.3 641.9,420.2 639.6,419.6 638.5,418.1" class="c"/>
<polyline points="661.8,409.4 664.9,409 669.3,409.2 669.7,410.8 667.5,413 664.4,413.1 662.2,411.4 661.8,409.4" class="c"/>
<polyline points="653.4,426.7 656.5,423.1 658.7,424 660.9,426.2 659.1,429.3 656.5,431.5 654.7,429.3 653.4,426.7" class="c"/>
<polyline points="690,428.9 687,428.5 684.3,427.6 680.8,428.9 678.1,428.5 675.9,427.1 673.7,424.9 671.1,424.5 668.8,426.2 668.4,428.9 668.8,431.5 666.6,433.3 664.9,431.1 663.5,428.5 664,426.7 665.8,423.6 667.5,420.9 670.2,418.3 672.8,417.4 675.5,418.3 678.1,419.6 680.8,421.8 683.5,420.9 681.7,419.2 679.5,417.8 679,416.1 681.7,414.7 685.2,413.4 687.9,413 690,414.7" class="c"/>
<polyline points="690,415.6 687.9,416.1 686.5,417.8 688.3,419.2 690,419.6" class="c"/>
<polyline points="680.8,407.2 683.5,405.9 685.2,406.8 683.5,409.4 681.7,409 680.8,407.2" class="c"/>
<polyline points="636.1,407.2 637,407.2" class="c"/>
<polyline points="686.1,405.4 687,406.3" class="c"/>
<polygon points="690,405 696.6,405 698,407.7 697.5,410.8 695.3,413 692.7,414.7 690.9,416.1 690,416.5" fill="#80FF00"/>
<polygon points="690,420 691.8,419.6 694,418.3 697.1,416.5 698.8,417.8 697.5,420 695.3,421.8 697.1,423.1 699.7,421.4 702.4,419.6 705.9,420 708.1,422.3 707.7,424.5 705,424 701.9,424.9 700.2,427.1 701.1,429.8 703.3,432 705.5,434.6 707.7,437.3 709.9,439.5 710.8,441.5 690,441.5" fill="#80FF00"/>
<polygon points="705,405 705.5,407.2 707.3,408.1 709,406.8 709.5,405" fill="#80FF00"/>
<polygon points="714.8,412.1 716.1,409.9 718.8,409.4 719.6,411.6 717.9,413" fill="#80FF00"/>
<polygon points="722.3,405 733.8,405 732.5,407.2 730.3,409.4 729.4,412.5 728.1,414.3 726.3,412.5 725.4,409.9 723.6,408.1" fill="#80FF00"/>
<polygon points="738.2,413.4 738.7,410.8 741.3,408.5 744.9,407.7 747.5,409.9 748.4,412.1 749.3,408.5 751.1,405 768,405 768,420.9 764.3,421.4 760.8,421.8 758.1,421.4 755.9,423.1 754.6,425.8 752.8,426.7 750.2,424.9 747.5,426.2 746.2,428.5 743.1,430.7 739.6,432 736,431.5 732.5,429.8 729.8,427.6 727.6,425.4 725.4,423.6 726.3,421.8 728.9,420.5 731.2,418.3 733.4,417.4 736,419.2 738.2,420.9 740.9,419.6 743.5,417.8 744.4,415.2 743.1,413.8 740.9,414.3" fill="#80FF00"/>
<polygon points="716.5,438.6 717.4,435.5 719.6,433.3 722.7,431.5 726.3,432.4 728.5,434.2 728.1,437.3 726.3,440 722.7,441 718.3,440.8" fill="#80FF00"/>
<polygon points="768,421.8 764.3,422.7 762.1,424.9 760.8,428 760.4,431.5 759,434.6 758.1,435.5 760.8,436 763.5,437.3 765.2,439.1 768,439.5" fill="#80FF00"/>
<polygon points="716.4,424 718.3,423.1 720.5,424.5 718.1,427.1" fill="#80FF00"/>
<polyline points="696.6,405 698,407.7 697.5,410.8 695.3,413 692.7,414.7 690.9,416.1 690,416.5" class="c"/>
<polyline points="690,420 691.8,419.6 694,418.3 697.1,416.5 698.8,417.8 697.5,420 695.3,421.8 697.1,423.1 699.7,421.4 702.4,419.6 705.9,420 708.1,422.3 707.7,424.5 705,424 701.9,424.9 700.2,427.1 701.1,429.8 703.3,432 705.5,434.6 707.7,437.3 709.9,439.5 710.8,441.5 690,441.5" class="c"/>
<polyline points="705,405 705.5,407.2 707.3,408.1 709,406.8 709.5,405" class="c"/>
<polyline points="714.8,412.1 716.1,409.9 718.8,409.4 719.6,411.6 717.9,413 714.8,412.1" class="c"/>
<polyline points="733.8,405 732.5,407.2 730.3,409.4 729.4,412.5 728.1,414.3 726.3,412.5 725.4,409.9 723.6,408.1 722.3,405" class="c"/>
<polyline points="768,420.9 764.3,421.4 760.8,421.8 758.1,421.4 755.9,423.1 754.6,425.8 752.8,426.7 750.2,424.9 747.5,426.2 746.2,428.5 743.1,430.7 739.6,432 736,431.5 732.5,429.8 729.8,427.6 727.6,425.4 725.4,423.6 726.3,421.8 728.9,420.5 731.2,418.3 733.4,417.4 736,419.2 738.2,420.9 740.9,419.6 743.5,417.8 744.4,415.2 743.1,413.8 740.9,414.3 738.2,413.4 738.7,410.8 741.3,408.5 744.9,407.7 747.5,409.9 748.4,412.1 749.3,408.5 751.1,405" class="c"/>
<polyline points="716.5,438.6 717.4,435.5 719.6,433.3 722.7,431.5 726.3,432.4 728.5,434.2 728.1,437.3 726.3,440 722.7,441 718.3,440.8 716.5,438.6" class="c"/>
<polyline points="768,421.8 764.3,422.7 762.1,424.9 760.8,428 760.4,431.5 759,434.6 758.1,435.5 760.8,436 763.5,437.3 765.2,439.1 768,439.5" class="c"/>
<polyline points="716.4,424 718.3,423.1 720.5,424.5 718.1,427.1 716.4,424" class="c"/>
<polyline points="691.3,421.8 691.8,431.5" class="c"/>
<ellipse cx="759.9" cy="409" rx="2.3" ry="2.3" fill="#00FF80" class="r"/>
<ellipse cx="748.6" cy="421.8" rx="1.2" ry="1.3" fill="#00FF80" class="r"/>
<ellipse cx="692.5" cy="433.5" rx="0.8" ry="1.1" fill="#00FF80" class="r"/>
<clipPath id="tc1"><rect x="590" y="405" width="20" height="39"/></clipPath><g clip-path="url(#tc1)">
<rect x="590" y="405" width="20" height="39" fill="#00FF80"/>
<polygon points="586.4,416.5 590.8,416 596.3,417.7 600.8,417.1 602.4,413.8 600.8,410.5 597.4,408.8 595.8,406.6 598.5,405.5 603,406.6 606.3,409.9 607.4,413.8 605.7,417.7 602.4,420.4 601.9,422.6 605.2,423.2 609.6,421.5 612.9,421 614.6,424.3 614,428.2 608.5,431.5 605.2,434.2 600.8,433.7 596.3,430.9 591.9,428.7 588.6,428.2 586.4,428.2" fill="#80FF00"/>
<polyline points="586.4,416.5 590.8,416 596.3,417.7 600.8,417.1 602.4,413.8 600.8,410.5 597.4,408.8 595.8,406.6 598.5,405.5 603,406.6 606.3,409.9 607.4,413.8 605.7,417.7 602.4,420.4 601.9,422.6 605.2,423.2 609.6,421.5 612.9,421 614.6,424.3 614,428.2 608.5,431.5 605.2,434.2 600.8,433.7 596.3,430.9 591.9,428.7 588.6,428.2 586.4,428.2 586.4,416.5" class="c"/>
</g>
<clipPath id="tc2"><rect x="530" y="400" width="60" height="44"/></clipPath><g clip-path="url(#tc2)">
<rect x="530" y="400" width="60" height="44" fill="#00FF80"/>
<polygon points="529.3,408.1 530,408.1 532,407.4 532.7,405 534.7,404.4 536.7,405 538.7,406.4 541.4,406.7 544.1,406.4 546.1,404.7 548.2,403 549.8,402.4 551.5,403.7 552.5,405 550.8,406.7 549.2,408.7 548.5,410.8 549.2,412.4 552.2,412.4 554.9,412.1 556.2,410.1 558.2,408.7 560.6,408.7 561.9,410.1 561.3,412.4 560.3,414.5 559.6,415.8 556.9,416.5 554.2,417.8 551.5,419.5 549.5,420.2 548.2,418.5 546.1,416.8 544.5,415.1 543.1,413.8 541.8,411.8 540.8,409.4 539.4,408.7 537.4,409.1 536.4,411.1 537.1,413.4 539.1,415.1 541.1,416.8 542.1,418.5 541.4,420.8 539.4,422.2 537.4,421.5 535.7,420.2 534.4,417.8 533,419.5 531.3,421.9 530,423.2 529.3,423.2" fill="#80FF00"/>
<polygon points="562.6,404 564,401.7 566.3,402 567.3,404 567,406.7 568.7,408.4 571,410.1 573,412.1 574,414.5 576.4,416.1 579.8,417.1 583.8,417.5 587.8,416.5 590,415.8 591.9,415.8 591.9,425.9 590,425.9 583.8,426.6 586.5,427.6 590,428.2 591.9,428.2 591.9,428.9 590,428.9 587.8,429.6 586.5,431.6 584.5,433 582.5,431.6 580.4,432.3 579.4,434.3 578.4,437 577.1,439 574.4,440 571.7,440.3 569.7,439 569.7,437 571,435 572,433 572.4,431.3 570.3,430.3 567.7,428.9 566.3,426.9 565,425.9 563,426.6 560.9,427.9 559.6,429.6 558.6,431.3 557.6,433 555.9,434.6 552.2,435 549.2,434.6 548.8,433.3 550.5,431.6 552.2,429.9 552.5,427.9 551.5,426.2 550.2,424.9 550.8,423.5 552.9,422.5 555.6,421.2 558.2,419.5 560.3,417.8 561.6,416.1 563.3,415.3 566,415.3 568,413.4 568.3,410.8 567.3,409.1 565,408.7 563.3,409.4 562.6,408.1 562.3,406.1" fill="#80FF00"/>
<polygon points="567.7,420.2 568.7,417.8 570.3,417.1 572.4,418.5 573.7,420.2 577.1,420.8 580.4,421.5 580.1,423.2 577.1,422.5 573.7,422.2 571.7,423.5 569.7,423.9 568,422.5" fill="#00FF80"/>
<polygon points="571.7,404 573,402 575.4,402 576.7,404 576.1,406.4 574,407.4 572.4,406.1" fill="#80FF00"/>
<polygon points="582.5,406.7 585.1,403.4 587.5,405.7 587.2,407.7 585.5,409.1 583.8,408.4" fill="#80FF00"/>
<polygon points="577.1,412.1 579.1,409.8 582.1,409.8 583.8,411.8 585.5,413.4 583.8,415.1 580.4,415.1 578.1,413.8" fill="#80FF00"/>
<polygon points="529.3,433 530,433 532,430.3 534,429.6 536.7,430.6 538.4,433 538.1,436.3 536.4,439 534.7,441 530,441.4 529.3,441.4" fill="#80FF00"/>
<polygon points="540.4,438.3 542.1,436.3 544.5,435.3 546.8,436.7 548.8,438.3 549.8,439.7 546.1,440.3 542.4,440" fill="#80FF00"/>
<polygon points="582.8,438.7 583.8,436.7 585.5,435.3 587.5,437.3 586.2,439 583.8,439.5" fill="#80FF00"/>
<polygon points="568.3,399.7 569,401 570.3,400.7 570.7,399.7" fill="#80FF00"/>
<polyline points="529.3,408.1 530,408.1 532,407.4 532.7,405 534.7,404.4 536.7,405 538.7,406.4 541.4,406.7 544.1,406.4 546.1,404.7 548.2,403 549.8,402.4 551.5,403.7 552.5,405 550.8,406.7 549.2,408.7 548.5,410.8 549.2,412.4 552.2,412.4 554.9,412.1 556.2,410.1 558.2,408.7 560.6,408.7 561.9,410.1 561.3,412.4 560.3,414.5 559.6,415.8 556.9,416.5 554.2,417.8 551.5,419.5 549.5,420.2 548.2,418.5 546.1,416.8 544.5,415.1 543.1,413.8 541.8,411.8 540.8,409.4 539.4,408.7 537.4,409.1 536.4,411.1 537.1,413.4 539.1,415.1 541.1,416.8 542.1,418.5 541.4,420.8 539.4,422.2 537.4,421.5 535.7,420.2 534.4,417.8 533,419.5 531.3,421.9 530,423.2 529.3,423.2 529.3,408.1" class="c"/>
<polyline points="562.6,404 564,401.7 566.3,402 567.3,404 567,406.7 568.7,408.4 571,410.1 573,412.1 574,414.5 576.4,416.1 579.8,417.1 583.8,417.5 587.8,416.5 590,415.8 591.9,415.8 591.9,425.9 590,425.9 583.8,426.6 586.5,427.6 590,428.2 591.9,428.2 591.9,428.9 590,428.9 587.8,429.6 586.5,431.6 584.5,433 582.5,431.6 580.4,432.3 579.4,434.3 578.4,437 577.1,439 574.4,440 571.7,440.3 569.7,439 569.7,437 571,435 572,433 572.4,431.3 570.3,430.3 567.7,428.9 566.3,426.9 565,425.9 563,426.6 560.9,427.9 559.6,429.6 558.6,431.3 557.6,433 555.9,434.6 552.2,435 549.2,434.6 548.8,433.3 550.5,431.6 552.2,429.9 552.5,427.9 551.5,426.2 550.2,424.9 550.8,423.5 552.9,422.5 555.6,421.2 558.2,419.5 560.3,417.8 561.6,416.1 563.3,415.3 566,415.3 568,413.4 568.3,410.8 567.3,409.1 565,408.7 563.3,409.4 562.6,408.1 562.3,406.1 562.6,404" class="c"/>
<polyline points="567.7,420.2 568.7,417.8 570.3,417.1 572.4,418.5 573.7,420.2 577.1,420.8 580.4,421.5 580.1,423.2 577.1,422.5 573.7,422.2 571.7,423.5 569.7,423.9 568,422.5 567.7,420.2" class="c"/>
<polyline points="571.7,404 573,402 575.4,402 576.7,404 576.1,406.4 574,407.4 572.4,406.1 571.7,404" class="c"/>
<polyline points="582.5,406.7 585.1,403.4 587.5,405.7 587.2,407.7 585.5,409.1 583.8,408.4 582.5,406.7" class="c"/>
<polyline points="577.1,412.1 579.1,409.8 582.1,409.8 583.8,411.8 585.5,413.4 583.8,415.1 580.4,415.1 578.1,413.8 577.1,412.1" class="c"/>
<polyline points="529.3,433 530,433 532,430.3 534,429.6 536.7,430.6 538.4,433 538.1,436.3 536.4,439 534.7,441 530,441.4 529.3,441.4 529.3,433" class="c"/>
<polyline points="540.4,438.3 542.1,436.3 544.5,435.3 546.8,436.7 548.8,438.3 549.8,439.7 546.1,440.3 542.4,440 540.4,438.3" class="c"/>
<polyline points="582.8,438.7 583.8,436.7 585.5,435.3 587.5,437.3 586.2,439 583.8,439.5 582.8,438.7" class="c"/>
<polyline points="568.3,399.7 569,401 570.3,400.7 570.7,399.7" class="c"/>
</g>
<clipPath id="tc3"><rect x="670" y="378" width="60" height="44"/></clipPath><g clip-path="url(#tc3)">
<rect x="670" y="378" width="60" height="44" fill="#00FF80"/>
<polygon points="677.4,377.3 677.4,378 678.4,380 679.4,382.4 683.4,382.7 686.1,381.7 688.8,382.4 692.9,382.7 694.2,384.4 693.5,386.7 692.5,389.1 690.8,390.8 689.5,392.8 687.5,393.8 685.8,392.5 685.8,390.1 687.8,388.8 689.5,387.4 688.5,385.4 686.8,384.4 684.1,386.1 681.1,387.4 680.1,389.8 679.8,392.5 681.1,394.1 683.1,395.5 683.8,398.2 684.5,400.9 685.1,403.9 686.1,405.9 687.8,404.9 689.5,402.9 690.2,400.2 690.5,397.5 691.2,395.5 692.5,394.8 693.2,396.8 693.5,399.5 694.2,402.2 695.9,404.9 697.2,407.6 697.6,410.3 695.9,411.6 694.2,413.3 692.2,414.7 689.8,415 688.2,413.3 686.5,412.3 683.4,413.3 680.8,414.3 678.7,416 678.4,418 676.7,419 673.4,417.7 670,417.3 669.3,417.3 669.3,377.3" fill="#80FF00"/>
<polygon points="674.4,385.1 675.7,383 678.1,382.7 679.4,384.4 678.7,386.7 676.4,387.4" fill="#00FF80"/>
<polygon points="675.4,397.5 676.7,394.8 678.4,394.5 679.4,397.5 679.1,400.9 678.7,403.9 676.7,404.2 675.4,402.2" fill="#00FF80"/>
<polygon points="680.8,407.3 682.4,406.1 685.8,406.6 684.1,407.9 682.4,409.3" fill="#00FF80"/>
<polygon points="685.8,415.7 687.5,414.3 689.2,415.3 689.5,417.7 690.8,419 689.5,420 686.8,419 686.1,417.3" fill="#80FF00"/>
<polygon points="690.8,417.7 692.9,416.7 696.9,416 699.6,418.3 696.9,419.7 693.5,421 691.5,420" fill="#80FF00"/>
<polygon points="693.2,380.4 697.9,380 699.6,377.7 705,377.7 707.7,380.4 705.3,383 703,386.7 700.9,385.1 700.3,382" fill="#80FF00"/>
<polygon points="701.6,398.2 702.6,396.2 704,397.5 704.6,400.9 703.6,403.2 702.1,402.5" fill="#80FF00"/>
<polygon points="704.3,405.6 706.7,404.2 709.3,404.9 709.7,406.6 707.7,408.3 705.6,407.6" fill="#80FF00"/>
<polygon points="714.4,412.3 716.1,409.5 719.4,409.5 719.6,412.3" fill="#80FF00"/>
<polygon points="720.4,396.2 722.1,394.5 724.5,394.5 725.8,396.5 724.5,398.5 722.1,398.8" fill="#80FF00"/>
<polygon points="721.8,406.9 723.1,404.2 723.8,401.9 727.2,401.9 730,402.5 731.2,402.5 731.2,414.3 728.5,414.3 727.2,412.3 726.5,410.3 724.5,408.9 722.5,408.3" fill="#80FF00"/>
<polygon points="700.9,422.4 702.3,420 705,419.4 707.3,420.7 707.7,422.4" fill="#80FF00"/>
<polygon points="669.3,420 674,421 677.4,422.4 669.3,422.4" fill="#80FF00"/>
<polyline points="677.4,378 678.4,380 679.4,382.4 683.4,382.7 686.1,381.7 688.8,382.4 692.9,382.7 694.2,384.4 693.5,386.7 692.5,389.1 690.8,390.8 689.5,392.8 687.5,393.8 685.8,392.5 685.8,390.1 687.8,388.8 689.5,387.4 688.5,385.4 686.8,384.4 684.1,386.1 681.1,387.4 680.1,389.8 679.8,392.5 681.1,394.1 683.1,395.5 683.8,398.2 684.5,400.9 685.1,403.9 686.1,405.9 687.8,404.9 689.5,402.9 690.2,400.2 690.5,397.5 691.2,395.5 692.5,394.8 693.2,396.8 693.5,399.5 694.2,402.2 695.9,404.9 697.2,407.6 697.6,410.3 695.9,411.6 694.2,413.3 692.2,414.7 689.8,415 688.2,413.3 686.5,412.3 683.4,413.3 680.8,414.3 678.7,416 678.4,418 676.7,419 673.4,417.7 670,417.3 669.3,417.3 669.3,377.3" class="c"/>
<polyline points="674.4,385.1 675.7,383 678.1,382.7 679.4,384.4 678.7,386.7 676.4,387.4 674.4,385.1" class="c"/>
<polyline points="675.4,397.5 676.7,394.8 678.4,394.5 679.4,397.5 679.1,400.9 678.7,403.9 676.7,404.2 675.4,402.2 675.4,397.5" class="c"/>
<polyline points="680.8,407.3 682.4,406.1 685.8,406.6 684.1,407.9 682.4,409.3 680.8,407.3" class="c"/>
<polyline points="685.8,415.7 687.5,414.3 689.2,415.3 689.5,417.7 690.8,419 689.5,420 686.8,419 686.1,417.3 685.8,415.7" class="c"/>
<polyline points="690.8,417.7 692.9,416.7 696.9,416 699.6,418.3 696.9,419.7 693.5,421 691.5,420 690.8,417.7" class="c"/>
<polyline points="705,377.7 707.7,380.4 705.3,383 703,386.7 700.9,385.1 700.3,382 693.2,380.4 697.9,380 699.6,377.7" class="c"/>
<polyline points="701.6,398.2 702.6,396.2 704,397.5 704.6,400.9 703.6,403.2 702.1,402.5 701.6,398.2" class="c"/>
<polyline points="704.3,405.6 706.7,404.2 709.3,404.9 709.7,406.6 707.7,408.3 705.6,407.6 704.3,405.6" class="c"/>
<polyline points="714.4,412.3 716.1,409.5 719.4,409.5 719.6,412.3 714.4,412.3" class="c"/>
<polyline points="720.4,396.2 722.1,394.5 724.5,394.5 725.8,396.5 724.5,398.5 722.1,398.8 720.4,396.2" class="c"/>
<polyline points="721.8,406.9 723.1,404.2 723.8,401.9 727.2,401.9 730,402.5 731.2,402.5 731.2,414.3 728.5,414.3 727.2,412.3 726.5,410.3 724.5,408.9 722.5,408.3 721.8,406.9" class="c"/>
<polyline points="700.9,422.4 702.3,420 705,419.4 707.3,420.7 707.7,422.4 700.9,422.4" class="c"/>
<polyline points="669.3,420 674,421 677.4,422.4 669.3,422.4 669.3,420" class="c"/>
<polyline points="717.5,392.5 718.2,393.2" class="c"/>
<polyline points="712.2,398.5 713.6,399.5 712.2,400.5 712.2,398.5" class="c"/>
<polyline points="727.2,392.8 729.2,392.8" class="c"/>
<ellipse cx="671.3" cy="390.4" rx="0.9" ry="1.1" fill="#00FF80" class="r"/>
<ellipse cx="722.5" cy="389.1" rx="0.9" ry="1.3" fill="#80FF00" class="r"/>
<ellipse cx="707.5" cy="393.8" rx="1.1" ry="1.2" fill="#80FF00" class="r"/>
</g>
<polygon points="130,150 130,300 217,300 217,301 290,301.4 313,302.6 330,304 344,306.6 356,308.6 368,308 380,305.4 400,304.6 430,305 450,306.4 480,307 503,305.4 520,304.4 538,303.4 556,301.6 574,299.4 600,298.4 640,298 690,299.2 730,300 775,300.6 775,150" fill="#00FFFF"/>
<polygon points="130,150 130,299.2 217,299.2 217,300.2 290,300.6 320,301.4 336,302.6 346,305.6 356,307.4 364,306.4 368,303 383,301.6 420,300.6 486,299.4 560,298.4 600,297 640,297 690,298.4 730,299 775,300 775,150" fill="#0055FF"/>
<polygon points="130,150 130,298.6 217,298.6 217,299.6 290,299.8 320,300.2 340,300.8 356,300.8 383,300.2 420,299.4 486,298 560,297.3 600,296 640,296 690,297.5 730,298.3 775,299.3 775,150" fill="#370AA5"/>
<polygon points="130,150 130,298 217,298 217,299 300,299 320,298.5 350,298 383,298.5 420,298 486,296.7 560,296.3 600,295 640,295 690,296.5 730,297.5 775,298.5 775,150" fill="#7F00AA"/>
<polygon points="130,480 130,441 160,441 160,442 213,442 213,441 228,441 228,442 741,442 741,441 775,441 775,480" fill="#00FFFF"/>
<polygon points="130,480 130,442 160,442 160,442 741,442 741,441.5 775,441.5 775,480" fill="#0055FF"/>
<polygon points="130,480 130,443 760,443 760,442 775,442 775,480" fill="#7F00AA"/>
<polyline points="136,163.5 245,163.5 245,164.5 530,164.5 530,163.5 768,163.5" class="c"/>
<polyline points="136,193 144,193 144,194 335,194" class="k"/>
<polyline points="383,195 400,195 400,196 425,196 425,197 450,197 450,198 467,198 467,199 497,199 497,198 506,198 506,197 517,197 517,196 524,196 524,195 627,195 627,194 652,194 652,193 768,193" class="k"/>
<polyline points="136,207 228,207 228,208 335,208" class="k"/>
<polyline points="383,208 671,208 671,207 768,207" class="k"/>
<polyline points="136,219.5 440,219.5 440,220.5 506,220.5 506,219.5 768,219.5" class="c"/>
<polyline points="136,268.5 164,268.5 164,269.5 246,269.5 246,270.5 424,270.5 424,269.5 450,269.5 450,268.5 507,268.5 507,267.5 588,267.5 588,266.5 599,266.5 599,267.5 715,267.5 715,268.5 768,268.5" class="c"/>
<polyline points="136,283 162,283 162,282 202,282 202,281 227,281 227,280 253,280 253,279 335,279" class="k"/>
<polyline points="383,279 392,279 392,280 406,280 406,281 426,281 426,282 534,282 534,283 637,283 637,284 768,284" class="k"/>
<polyline points="136,290.5 195,290.5 195,289.5 241,289.5 241,290.5 399,290.5 399,289.5 443,289.5 443,288.5 507,288.5 507,289.5 593,289.5 593,288.5 603,288.5 603,289.5 664,289.5 664,290.5 768,290.5" class="c"/>
<polyline points="136,296 217,296 217,297 335,297" class="k"/>
<polyline points="383,296 406,296 406,295 467,295 467,294 575,294 575,293 610,293 610,292 642,292 642,293 688,293 688,294 713,294 713,295 768,295" class="k"/>
<polyline points="136,446 145,446 145,447 335,447" class="k"/>
<polyline points="383,447 600,447 600,446 768,446" class="k"/>
<polyline points="136,454.5 154,454.5 154,455.5 190,455.5 190,454.5 211,454.5 211,455.5 455,455.5 455,454.5 464,454.5 464,455.5 500,455.5 500,454.5 526,454.5 526,455.5 670,455.5 670,454.5 709,454.5 709,455.5 768,455.5" class="c"/>
<polyline points="136,467 335,467" class="k"/>
<polyline points="383,467 443,467 443,466 600,466 600,465 615,465 615,466 683,466 683,465 701,465 701,466 768,466" class="k"/>
</g>
<rect x="136" y="157" width="632" height="316" fill="none" stroke="#000" stroke-width="2"/>
<rect x="159" y="158" width="1" height="4"/><rect x="159" y="468" width="1" height="4"/><rect x="183" y="158" width="2" height="9"/><rect x="183" y="463" width="2" height="9"/><rect x="210" y="158" width="1" height="4"/><rect x="210" y="468" width="1" height="4"/><rect x="235" y="158" width="2" height="9"/><rect x="235" y="463" width="2" height="9"/><rect x="261" y="158" width="1" height="4"/><rect x="261" y="468" width="1" height="4"/><rect x="285" y="158" width="2" height="9"/><rect x="285" y="463" width="2" height="9"/><rect x="312" y="158" width="1" height="4"/><rect x="312" y="468" width="1" height="4"/><rect x="337" y="158" width="2" height="9"/><rect x="337" y="463" width="2" height="9"/><rect x="363" y="158" width="1" height="4"/><rect x="363" y="468" width="1" height="4"/><rect x="387" y="158" width="2" height="9"/><rect x="387" y="463" width="2" height="9"/><rect x="414" y="158" width="1" height="4"/><rect x="414" y="468" width="1" height="4"/><rect x="439" y="158" width="2" height="9"/><rect x="439" y="463" width="2" height="9"/><rect x="465" y="158" width="1" height="4"/><rect x="465" y="468" width="1" height="4"/><rect x="489" y="158" width="2" height="9"/><rect x="489" y="463" width="2" height="9"/><rect x="516" y="158" width="1" height="4"/><rect x="516" y="468" width="1" height="4"/><rect x="541" y="158" width="2" height="9"/><rect x="541" y="463" width="2" height="9"/><rect x="567" y="158" width="1" height="4"/><rect x="567" y="468" width="1" height="4"/><rect x="591" y="158" width="2" height="9"/><rect x="591" y="463" width="2" height="9"/><rect x="618" y="158" width="1" height="4"/><rect x="618" y="468" width="1" height="4"/><rect x="643" y="158" width="2" height="9"/><rect x="643" y="463" width="2" height="9"/><rect x="669" y="158" width="1" height="4"/><rect x="669" y="468" width="1" height="4"/><rect x="693" y="158" width="2" height="9"/><rect x="693" y="463" width="2" height="9"/><rect x="720" y="158" width="1" height="4"/><rect x="720" y="468" width="1" height="4"/><rect x="745" y="158" width="2" height="9"/><rect x="745" y="463" width="2" height="9"/><rect x="137" y="448" width="4" height="1"/><rect x="763" y="448" width="4" height="1"/><rect x="137" y="421" width="9" height="2"/><rect x="758" y="421" width="9" height="2"/><rect x="137" y="395" width="4" height="1"/><rect x="763" y="395" width="4" height="1"/><rect x="137" y="367" width="9" height="2"/><rect x="758" y="367" width="9" height="2"/><rect x="137" y="342" width="4" height="1"/><rect x="763" y="342" width="4" height="1"/><rect x="137" y="314" width="9" height="2"/><rect x="758" y="314" width="9" height="2"/><rect x="137" y="288" width="4" height="1"/><rect x="763" y="288" width="4" height="1"/><rect x="137" y="261" width="9" height="2"/><rect x="758" y="261" width="9" height="2"/><rect x="137" y="235" width="4" height="1"/><rect x="763" y="235" width="4" height="1"/><rect x="137" y="207" width="9" height="2"/><rect x="758" y="207" width="9" height="2"/><rect x="137" y="182" width="4" height="1"/><rect x="763" y="182" width="4" height="1"/>
<rect x="784" y="247" width="18" height="23.1" fill="#FF2020"/>
<rect x="784" y="269.6" width="18" height="23.1" fill="#FF5500"/>
<rect x="784" y="292.2" width="18" height="23.1" fill="#FFAA00"/>
<rect x="784" y="314.8" width="18" height="23.1" fill="#FFFF00"/>
<rect x="784" y="337.4" width="18" height="23.1" fill="#80FF00"/>
<rect x="784" y="360" width="18" height="23.1" fill="#00FF80"/>
<rect x="784" y="382.6" width="18" height="23.1" fill="#00FFFF"/>
<rect x="784" y="405.2" width="18" height="23.1" fill="#0055FF"/>
<rect x="784" y="427.8" width="18" height="23.1" fill="#0000AA"/>
<rect x="784" y="450.4" width="18" height="23.1" fill="#370AA5"/>
<polygon points="784,247 793.5,206.5 802,247" fill="#FFAAAA" stroke="#000" stroke-width="1.6" shape-rendering="auto"/>
<polygon points="784,473 793,514 802,473" fill="#7F00AA" stroke="#000" stroke-width="1.6" shape-rendering="auto"/>
<rect x="783" y="246" width="20" height="2"/>
<rect x="783" y="269" width="20" height="2"/>
<rect x="783" y="291" width="20" height="2"/>
<rect x="783" y="314" width="20" height="2"/>
<rect x="783" y="336" width="20" height="2"/>
<rect x="783" y="359" width="20" height="2"/>
<rect x="783" y="382" width="20" height="2"/>
<rect x="783" y="404" width="20" height="2"/>
<rect x="783" y="427" width="20" height="2"/>
<rect x="783" y="449" width="20" height="2"/>
<rect x="783" y="472" width="20" height="2"/>
<rect x="783" y="246" width="2" height="228"/><rect x="801" y="246" width="2" height="228"/>
</g>
<text x="334.5" y="113" font-size="28.8" class="thin ttl" text-anchor="start" textLength="237" lengthAdjust="spacing">Saturation Ratio</text>
<text x="47" y="134.4" font-size="14.1" class="b" text-anchor="start" textLength="87" lengthAdjust="spacing">(×1E4 m)</text>
<text x="777.5" y="168.6" font-size="16" class="thin" text-anchor="start" textLength="122" lengthAdjust="spacing">t=2.8116e+06</text>
<text x="378.5" y="546.8" font-size="19.2" class="thin" text-anchor="start" textLength="149" lengthAdjust="spacing">X coordinate</text>
<text x="684.5" y="516.5" font-size="14.1" class="b" text-anchor="start" textLength="98" lengthAdjust="spacing">(×1000 m)</text>
<text x="304.5" y="590.6" font-size="15.1" class="thin" text-anchor="start" textLength="296" lengthAdjust="spacing">CONTOUR INTERVAL = 2.000E−01</text>
<text transform="translate(99,389.6) rotate(-90)" font-size="19.2" class="thin" textLength="151" lengthAdjust="spacing">Z coordinate</text>
<text x="185" y="495.3" font-size="19" class="b" text-anchor="middle">4</text>
<text x="236" y="495.3" font-size="19" class="b" text-anchor="middle">8</text>
<text x="287" y="495.3" font-size="19" class="b" text-anchor="middle" textLength="23" lengthAdjust="spacing">12</text>
<text x="338" y="495.3" font-size="19" class="b" text-anchor="middle" textLength="23" lengthAdjust="spacing">16</text>
<text x="389" y="495.3" font-size="19" class="b" text-anchor="middle" textLength="23" lengthAdjust="spacing">20</text>
<text x="440" y="495.3" font-size="19" class="b" text-anchor="middle" textLength="23" lengthAdjust="spacing">24</text>
<text x="491" y="495.3" font-size="19" class="b" text-anchor="middle" textLength="23" lengthAdjust="spacing">28</text>
<text x="542" y="495.3" font-size="19" class="b" text-anchor="middle" textLength="23" lengthAdjust="spacing">32</text>
<text x="593" y="495.3" font-size="19" class="b" text-anchor="middle" textLength="23" lengthAdjust="spacing">36</text>
<text x="644" y="495.3" font-size="19" class="b" text-anchor="middle" textLength="23" lengthAdjust="spacing">40</text>
<text x="695" y="495.3" font-size="19" class="b" text-anchor="middle" textLength="23" lengthAdjust="spacing">44</text>
<text x="746" y="495.3" font-size="19" class="b" text-anchor="middle" textLength="23" lengthAdjust="spacing">48</text>
<text x="121" y="428.6" font-size="19" class="b" text-anchor="middle">1</text>
<text x="121" y="375.3" font-size="19" class="b" text-anchor="middle">2</text>
<text x="121" y="322" font-size="19" class="b" text-anchor="middle">3</text>
<text x="121" y="268.7" font-size="19" class="b" text-anchor="middle">4</text>
<text x="121" y="215.4" font-size="19" class="b" text-anchor="middle">5</text>
<text x="811.6" y="275" font-size="15" class="b" text-anchor="start" textLength="34.5" lengthAdjust="spacing">1.08</text>
<text x="811.6" y="320.2" font-size="15" class="b" text-anchor="start" textLength="34.5" lengthAdjust="spacing">1.04</text>
<text x="811.6" y="365.4" font-size="15" class="b" text-anchor="start">1</text>
<text x="811.6" y="410.6" font-size="15" class="b" text-anchor="start" textLength="34.5" lengthAdjust="spacing">0.96</text>
<text x="811.6" y="455.8" font-size="15" class="b" text-anchor="start" textLength="34.5" lengthAdjust="spacing">0.92</text>
<text x="359" y="200" font-size="17.8" class="thin cl" text-anchor="middle" textLength="37.5" lengthAdjust="spacing">0.40</text>
<text x="359" y="214" font-size="17.8" class="thin cl" text-anchor="middle" textLength="37.5" lengthAdjust="spacing">0.40</text>
<text x="359" y="285" font-size="17.8" class="thin cl" text-anchor="middle" textLength="37.5" lengthAdjust="spacing">0.40</text>
<text x="359" y="303" font-size="17.8" class="thin cl" text-anchor="middle" textLength="37.5" lengthAdjust="spacing">0.80</text>
<text x="359" y="453.5" font-size="17.8" class="thin cl" text-anchor="middle" textLength="37.5" lengthAdjust="spacing">0.80</text>
<text x="359" y="473" font-size="17.8" class="thin cl" text-anchor="middle" textLength="37.5" lengthAdjust="spacing">0.40</text>
</svg></body></html>
